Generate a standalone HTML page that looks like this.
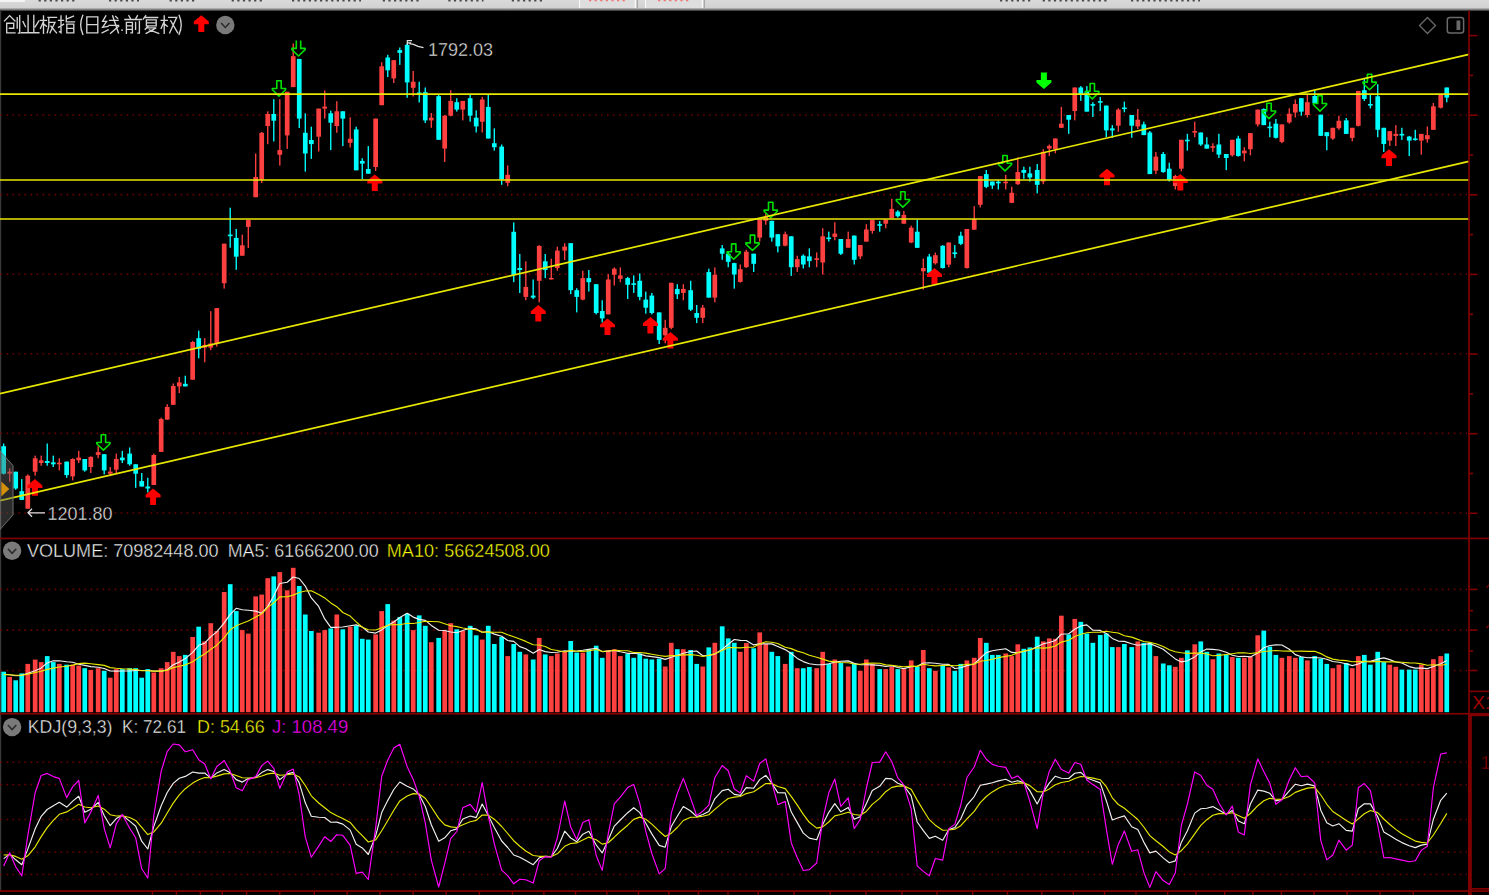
<!DOCTYPE html>
<html><head><meta charset="utf-8"><style>html,body{margin:0;padding:0;background:#000;overflow:hidden;width:1489px;height:895px}</style></head>
<body><svg width="1489" height="895" viewBox="0 0 1489 895" style="display:block">
<rect x="0" y="0" width="1489" height="895" fill="#000"/>
<defs><linearGradient id="tg" x1="0" y1="0" x2="0" y2="1"><stop offset="0" stop-color="#dadada"/><stop offset="0.66" stop-color="#d2d2d2"/><stop offset="0.83" stop-color="#808080"/><stop offset="1" stop-color="#060606"/></linearGradient></defs>
<rect x="0" y="0" width="1489" height="11.5" fill="url(#tg)"/>
<rect x="0" y="0" width="25" height="2" fill="#f4f4f4"/>
<rect x="579" y="0" width="57" height="8" fill="#dedede"/><rect x="645" y="0" width="58" height="8" fill="#dedede"/>
<rect x="579" y="0" width="1" height="8" fill="#fafafa"/>
<rect x="645" y="0" width="1" height="8" fill="#fafafa"/>
<rect x="634.7" y="0" width="1.2" height="8" fill="#fafafa"/><rect x="636.8" y="0" width="1.2" height="8" fill="#a8a8a8"/>
<rect x="701.7" y="0" width="1.2" height="8" fill="#fafafa"/><rect x="703.8" y="0" width="1.2" height="8" fill="#a8a8a8"/>
<line x1="38.6" y1="0.6" x2="75.6" y2="0.6" stroke="#303030" stroke-width="1.6" stroke-dasharray="2.2 3.4" opacity="0.85"/>
<line x1="109" y1="0.6" x2="139" y2="0.6" stroke="#303030" stroke-width="1.6" stroke-dasharray="2.2 3.4" opacity="0.85"/>
<line x1="169.6" y1="0.6" x2="196.4" y2="0.6" stroke="#303030" stroke-width="1.6" stroke-dasharray="2.2 3.4" opacity="0.85"/>
<line x1="231.7" y1="0.6" x2="265.3" y2="0.6" stroke="#303030" stroke-width="1.6" stroke-dasharray="2.2 3.4" opacity="0.85"/>
<line x1="292" y1="0.6" x2="361" y2="0.6" stroke="#303030" stroke-width="1.6" stroke-dasharray="2.2 3.4" opacity="0.85"/>
<line x1="382.8" y1="0.6" x2="419.8" y2="0.6" stroke="#303030" stroke-width="1.6" stroke-dasharray="2.2 3.4" opacity="0.85"/>
<line x1="448.3" y1="0.6" x2="483.5" y2="0.6" stroke="#303030" stroke-width="1.6" stroke-dasharray="2.2 3.4" opacity="0.85"/>
<line x1="511.8" y1="0.6" x2="543.7" y2="0.6" stroke="#303030" stroke-width="1.6" stroke-dasharray="2.2 3.4" opacity="0.85"/>
<line x1="1000" y1="0.6" x2="1033" y2="0.6" stroke="#303030" stroke-width="1.6" stroke-dasharray="2.2 3.4" opacity="0.85"/>
<line x1="1042.7" y1="0.6" x2="1108" y2="0.6" stroke="#303030" stroke-width="1.6" stroke-dasharray="2.2 3.4" opacity="0.85"/>
<line x1="1131" y1="0.6" x2="1200" y2="0.6" stroke="#303030" stroke-width="1.6" stroke-dasharray="2.2 3.4" opacity="0.85"/>
<line x1="589" y1="0.6" x2="626" y2="0.6" stroke="#ff3030" stroke-width="1.4" stroke-dasharray="2.2 3.4" opacity="0.6"/>
<line x1="658" y1="0.6" x2="691" y2="0.6" stroke="#ff3030" stroke-width="1.4" stroke-dasharray="2.2 3.4" opacity="0.6"/>
<rect x="0" y="10" width="1.2" height="881" fill="#3a3a3a"/>
<line x1="0.5" y1="115.0" x2="1467" y2="115.0" stroke="#6e0000" stroke-width="1.6" stroke-dasharray="1.6 4.4054"/>
<line x1="0.5" y1="194.6" x2="1467" y2="194.6" stroke="#6e0000" stroke-width="1.6" stroke-dasharray="1.6 4.4054"/>
<line x1="0.5" y1="274.2" x2="1467" y2="274.2" stroke="#6e0000" stroke-width="1.6" stroke-dasharray="1.6 4.4054"/>
<line x1="0.5" y1="353.79999999999995" x2="1467" y2="353.79999999999995" stroke="#6e0000" stroke-width="1.6" stroke-dasharray="1.6 4.4054"/>
<line x1="0.5" y1="433.4" x2="1467" y2="433.4" stroke="#6e0000" stroke-width="1.6" stroke-dasharray="1.6 4.4054"/>
<line x1="0.5" y1="513.0" x2="1467" y2="513.0" stroke="#6e0000" stroke-width="1.6" stroke-dasharray="1.6 4.4054"/>
<rect x="2.98" y="443.5" width="1.35" height="30.9" fill="#00ffff"/>
<rect x="1.30" y="446.2" width="4.7" height="27.5" fill="#00ffff"/>
<rect x="9.01" y="468.4" width="1.35" height="13.4" fill="#ff4040"/>
<rect x="7.34" y="471.7" width="4.7" height="2.0" fill="#ff4040"/>
<rect x="15.04" y="471.7" width="1.35" height="18.1" fill="#00ffff"/>
<rect x="13.37" y="471.7" width="4.7" height="16.8" fill="#00ffff"/>
<rect x="21.08" y="479.1" width="1.35" height="20.8" fill="#00ffff"/>
<rect x="19.40" y="491.2" width="4.7" height="8.7" fill="#00ffff"/>
<rect x="27.11" y="474.4" width="1.35" height="34.3" fill="#ff4040"/>
<rect x="25.44" y="475.7" width="4.7" height="33.0" fill="#ff4040"/>
<rect x="34.48" y="455.6" width="1.35" height="20.1" fill="#ff4040"/>
<rect x="32.81" y="458.3" width="4.7" height="13.4" fill="#ff4040"/>
<rect x="40.51" y="455.6" width="1.35" height="10.1" fill="#ff4040"/>
<rect x="38.84" y="460.3" width="4.7" height="2.7" fill="#ff4040"/>
<rect x="46.55" y="443.5" width="1.35" height="22.2" fill="#00ffff"/>
<rect x="44.87" y="461.0" width="4.7" height="2.0" fill="#00ffff"/>
<rect x="52.58" y="455.6" width="1.35" height="11.4" fill="#00ffff"/>
<rect x="50.91" y="462.3" width="4.7" height="2.0" fill="#00ffff"/>
<rect x="58.61" y="458.3" width="1.35" height="12.1" fill="#ff4040"/>
<rect x="56.94" y="462.7" width="4.7" height="1.6" fill="#ff4040"/>
<rect x="65.98" y="461.6" width="1.35" height="16.2" fill="#00ffff"/>
<rect x="64.31" y="461.6" width="4.7" height="13.5" fill="#00ffff"/>
<rect x="72.02" y="458.3" width="1.35" height="22.1" fill="#ff4040"/>
<rect x="70.34" y="459.0" width="4.7" height="17.4" fill="#ff4040"/>
<rect x="78.05" y="450.9" width="1.35" height="12.1" fill="#ff4040"/>
<rect x="76.38" y="457.6" width="4.7" height="2.7" fill="#ff4040"/>
<rect x="84.08" y="459.0" width="1.35" height="12.7" fill="#00ffff"/>
<rect x="82.41" y="459.0" width="4.7" height="11.4" fill="#00ffff"/>
<rect x="90.12" y="456.3" width="1.35" height="16.7" fill="#ff4040"/>
<rect x="88.44" y="456.9" width="4.7" height="10.1" fill="#ff4040"/>
<rect x="97.49" y="446.2" width="1.35" height="12.1" fill="#ff4040"/>
<rect x="95.81" y="452.2" width="4.7" height="2.7" fill="#ff4040"/>
<rect x="103.52" y="454.2" width="1.35" height="20.2" fill="#00ffff"/>
<rect x="101.85" y="454.2" width="4.7" height="16.2" fill="#00ffff"/>
<rect x="109.55" y="467.0" width="1.35" height="8.1" fill="#ff4040"/>
<rect x="107.88" y="471.7" width="4.7" height="2.0" fill="#ff4040"/>
<rect x="115.59" y="453.6" width="1.35" height="19.4" fill="#ff4040"/>
<rect x="113.91" y="459.0" width="4.7" height="10.7" fill="#ff4040"/>
<rect x="121.62" y="450.9" width="1.35" height="12.1" fill="#00ffff"/>
<rect x="119.95" y="457.6" width="4.7" height="2.7" fill="#00ffff"/>
<rect x="128.99" y="447.5" width="1.35" height="18.2" fill="#00ffff"/>
<rect x="127.32" y="453.6" width="4.7" height="10.7" fill="#00ffff"/>
<rect x="135.02" y="464.3" width="1.35" height="23.5" fill="#00ffff"/>
<rect x="133.35" y="464.3" width="4.7" height="9.4" fill="#00ffff"/>
<rect x="141.06" y="473.0" width="1.35" height="13.5" fill="#00ffff"/>
<rect x="139.38" y="481.1" width="4.7" height="5.4" fill="#00ffff"/>
<rect x="147.09" y="477.8" width="1.35" height="14.7" fill="#00ffff"/>
<rect x="145.42" y="486.5" width="4.7" height="2.0" fill="#00ffff"/>
<rect x="153.12" y="453.6" width="1.35" height="31.4" fill="#ff4040"/>
<rect x="151.45" y="455.0" width="4.7" height="30.0" fill="#ff4040"/>
<rect x="160.49" y="417.6" width="1.35" height="34.3" fill="#ff4040"/>
<rect x="158.82" y="419.0" width="4.7" height="32.9" fill="#ff4040"/>
<rect x="166.53" y="404.2" width="1.35" height="15.4" fill="#ff4040"/>
<rect x="164.85" y="406.9" width="4.7" height="12.7" fill="#ff4040"/>
<rect x="172.56" y="383.4" width="1.35" height="21.4" fill="#ff4040"/>
<rect x="170.89" y="386.0" width="4.7" height="18.8" fill="#ff4040"/>
<rect x="178.59" y="377.0" width="1.35" height="16.1" fill="#ff4040"/>
<rect x="176.92" y="382.4" width="4.7" height="4.0" fill="#ff4040"/>
<rect x="184.63" y="375.7" width="1.35" height="10.7" fill="#00ffff"/>
<rect x="182.95" y="383.8" width="4.7" height="2.6" fill="#00ffff"/>
<rect x="192.00" y="340.9" width="1.35" height="38.8" fill="#ff4040"/>
<rect x="190.32" y="342.0" width="4.7" height="37.7" fill="#ff4040"/>
<rect x="198.03" y="330.6" width="1.35" height="27.7" fill="#00ffff"/>
<rect x="196.36" y="338.2" width="4.7" height="10.7" fill="#00ffff"/>
<rect x="204.06" y="338.2" width="1.35" height="24.1" fill="#ff4040"/>
<rect x="202.39" y="344.9" width="4.7" height="2.7" fill="#ff4040"/>
<rect x="210.10" y="311.2" width="1.35" height="39.0" fill="#ff4040"/>
<rect x="208.42" y="343.5" width="4.7" height="4.1" fill="#ff4040"/>
<rect x="216.13" y="308.1" width="1.35" height="38.6" fill="#ff4040"/>
<rect x="214.46" y="308.1" width="4.7" height="35.6" fill="#ff4040"/>
<rect x="223.50" y="243.7" width="1.35" height="44.9" fill="#ff4040"/>
<rect x="221.83" y="243.7" width="4.7" height="39.5" fill="#ff4040"/>
<rect x="229.53" y="207.7" width="1.35" height="40.0" fill="#00ffff"/>
<rect x="227.86" y="234.6" width="4.7" height="1.6" fill="#00ffff"/>
<rect x="235.57" y="228.9" width="1.35" height="40.9" fill="#00ffff"/>
<rect x="233.89" y="237.9" width="4.7" height="18.8" fill="#00ffff"/>
<rect x="241.60" y="234.6" width="1.35" height="21.1" fill="#ff4040"/>
<rect x="239.93" y="245.3" width="4.7" height="10.4" fill="#ff4040"/>
<rect x="247.63" y="219.7" width="1.35" height="28.3" fill="#ff4040"/>
<rect x="245.96" y="220.1" width="4.7" height="6.8" fill="#ff4040"/>
<rect x="255.00" y="153.5" width="1.35" height="43.7" fill="#ff4040"/>
<rect x="253.33" y="177.0" width="4.7" height="20.2" fill="#ff4040"/>
<rect x="261.04" y="132.0" width="1.35" height="51.0" fill="#ff4040"/>
<rect x="259.36" y="132.8" width="4.7" height="46.9" fill="#ff4040"/>
<rect x="267.07" y="111.3" width="1.35" height="32.9" fill="#ff4040"/>
<rect x="265.40" y="114.0" width="4.7" height="12.0" fill="#ff4040"/>
<rect x="273.10" y="99.2" width="1.35" height="42.3" fill="#00ffff"/>
<rect x="271.43" y="114.0" width="4.7" height="6.7" fill="#00ffff"/>
<rect x="279.14" y="99.2" width="1.35" height="66.4" fill="#ff4040"/>
<rect x="277.46" y="150.1" width="4.7" height="4.7" fill="#ff4040"/>
<rect x="286.51" y="91.8" width="1.35" height="57.1" fill="#ff4040"/>
<rect x="284.83" y="91.8" width="4.7" height="43.6" fill="#ff4040"/>
<rect x="292.54" y="43.4" width="1.35" height="43.7" fill="#ff4040"/>
<rect x="290.87" y="56.2" width="4.7" height="30.9" fill="#ff4040"/>
<rect x="298.57" y="58.9" width="1.35" height="69.1" fill="#00ffff"/>
<rect x="296.90" y="58.9" width="4.7" height="59.7" fill="#00ffff"/>
<rect x="304.61" y="113.3" width="1.35" height="58.3" fill="#00ffff"/>
<rect x="302.93" y="132.8" width="4.7" height="20.7" fill="#00ffff"/>
<rect x="310.64" y="126.7" width="1.35" height="32.2" fill="#00ffff"/>
<rect x="308.97" y="140.0" width="4.7" height="4.1" fill="#00ffff"/>
<rect x="318.01" y="108.6" width="1.35" height="42.9" fill="#ff4040"/>
<rect x="316.34" y="108.6" width="4.7" height="28.1" fill="#ff4040"/>
<rect x="324.04" y="90.4" width="1.35" height="28.2" fill="#ff4040"/>
<rect x="322.37" y="106.6" width="4.7" height="2.0" fill="#ff4040"/>
<rect x="330.08" y="110.6" width="1.35" height="39.5" fill="#00ffff"/>
<rect x="328.40" y="113.3" width="4.7" height="9.4" fill="#00ffff"/>
<rect x="336.11" y="101.2" width="1.35" height="31.6" fill="#ff4040"/>
<rect x="334.44" y="111.3" width="4.7" height="14.7" fill="#ff4040"/>
<rect x="342.14" y="111.3" width="1.35" height="34.8" fill="#00ffff"/>
<rect x="340.47" y="111.3" width="4.7" height="7.3" fill="#00ffff"/>
<rect x="349.51" y="117.3" width="1.35" height="30.2" fill="#ff4040"/>
<rect x="347.84" y="138.8" width="4.7" height="4.0" fill="#ff4040"/>
<rect x="355.55" y="126.7" width="1.35" height="43.6" fill="#00ffff"/>
<rect x="353.87" y="129.4" width="4.7" height="40.9" fill="#00ffff"/>
<rect x="361.58" y="158.2" width="1.35" height="20.8" fill="#00ffff"/>
<rect x="359.91" y="160.9" width="4.7" height="2.7" fill="#00ffff"/>
<rect x="367.61" y="146.1" width="1.35" height="27.6" fill="#00ffff"/>
<rect x="365.94" y="169.0" width="4.7" height="4.7" fill="#00ffff"/>
<rect x="374.98" y="118.6" width="1.35" height="52.4" fill="#ff4040"/>
<rect x="373.31" y="118.6" width="4.7" height="48.4" fill="#ff4040"/>
<rect x="381.02" y="62.2" width="1.35" height="43.0" fill="#ff4040"/>
<rect x="379.34" y="66.3" width="4.7" height="38.9" fill="#ff4040"/>
<rect x="387.05" y="54.8" width="1.35" height="22.2" fill="#00ffff"/>
<rect x="385.38" y="57.5" width="4.7" height="12.8" fill="#00ffff"/>
<rect x="393.08" y="60.2" width="1.35" height="22.8" fill="#ff4040"/>
<rect x="391.41" y="60.2" width="4.7" height="18.2" fill="#ff4040"/>
<rect x="399.12" y="47.5" width="1.35" height="17.4" fill="#00ffff"/>
<rect x="397.44" y="50.1" width="4.7" height="2.7" fill="#00ffff"/>
<rect x="406.49" y="43.4" width="1.35" height="54.4" fill="#00ffff"/>
<rect x="404.81" y="44.8" width="4.7" height="37.6" fill="#00ffff"/>
<rect x="412.52" y="71.0" width="1.35" height="25.5" fill="#ff4040"/>
<rect x="410.85" y="81.7" width="4.7" height="6.1" fill="#ff4040"/>
<rect x="418.55" y="81.7" width="1.35" height="20.8" fill="#00ffff"/>
<rect x="416.88" y="92.5" width="4.7" height="2.0" fill="#00ffff"/>
<rect x="424.59" y="87.5" width="1.35" height="35.5" fill="#00ffff"/>
<rect x="422.91" y="92.2" width="4.7" height="28.2" fill="#00ffff"/>
<rect x="430.62" y="113.0" width="1.35" height="14.8" fill="#ff4040"/>
<rect x="428.95" y="117.7" width="4.7" height="2.7" fill="#ff4040"/>
<rect x="437.99" y="94.8" width="1.35" height="45.0" fill="#00ffff"/>
<rect x="436.32" y="96.2" width="4.7" height="43.6" fill="#00ffff"/>
<rect x="444.02" y="115.0" width="1.35" height="47.0" fill="#ff4040"/>
<rect x="442.35" y="115.7" width="4.7" height="32.9" fill="#ff4040"/>
<rect x="450.06" y="90.1" width="1.35" height="26.2" fill="#ff4040"/>
<rect x="448.38" y="100.9" width="4.7" height="14.8" fill="#ff4040"/>
<rect x="456.09" y="98.2" width="1.35" height="13.4" fill="#00ffff"/>
<rect x="454.42" y="102.2" width="4.7" height="7.4" fill="#00ffff"/>
<rect x="462.12" y="100.9" width="1.35" height="19.5" fill="#ff4040"/>
<rect x="460.45" y="100.9" width="4.7" height="8.7" fill="#ff4040"/>
<rect x="469.49" y="94.8" width="1.35" height="26.9" fill="#00ffff"/>
<rect x="467.82" y="98.2" width="4.7" height="17.5" fill="#00ffff"/>
<rect x="475.53" y="110.3" width="1.35" height="22.2" fill="#00ffff"/>
<rect x="473.85" y="117.7" width="4.7" height="8.7" fill="#00ffff"/>
<rect x="481.56" y="96.9" width="1.35" height="35.6" fill="#ff4040"/>
<rect x="479.89" y="99.5" width="4.7" height="22.2" fill="#ff4040"/>
<rect x="487.59" y="94.8" width="1.35" height="43.7" fill="#00ffff"/>
<rect x="485.92" y="106.9" width="4.7" height="31.6" fill="#00ffff"/>
<rect x="493.63" y="128.4" width="1.35" height="22.2" fill="#00ffff"/>
<rect x="491.95" y="143.2" width="4.7" height="4.0" fill="#00ffff"/>
<rect x="501.00" y="144.5" width="1.35" height="40.3" fill="#00ffff"/>
<rect x="499.32" y="146.6" width="4.7" height="32.9" fill="#00ffff"/>
<rect x="507.03" y="165.4" width="1.35" height="20.8" fill="#ff4040"/>
<rect x="505.36" y="174.8" width="4.7" height="8.0" fill="#ff4040"/>
<rect x="513.06" y="222.4" width="1.35" height="59.8" fill="#00ffff"/>
<rect x="511.39" y="231.8" width="4.7" height="43.0" fill="#00ffff"/>
<rect x="519.10" y="254.0" width="1.35" height="39.0" fill="#00ffff"/>
<rect x="517.42" y="268.0" width="4.7" height="2.0" fill="#00ffff"/>
<rect x="525.13" y="261.3" width="1.35" height="39.0" fill="#ff4040"/>
<rect x="523.46" y="286.9" width="4.7" height="10.0" fill="#ff4040"/>
<rect x="532.50" y="279.5" width="1.35" height="19.5" fill="#00ffff"/>
<rect x="530.83" y="295.6" width="4.7" height="2.0" fill="#00ffff"/>
<rect x="538.53" y="245.2" width="1.35" height="57.1" fill="#ff4040"/>
<rect x="536.86" y="245.9" width="4.7" height="34.9" fill="#ff4040"/>
<rect x="544.57" y="254.0" width="1.35" height="24.1" fill="#00ffff"/>
<rect x="542.89" y="261.3" width="4.7" height="8.7" fill="#00ffff"/>
<rect x="550.60" y="258.7" width="1.35" height="20.8" fill="#ff4040"/>
<rect x="548.93" y="277.9" width="4.7" height="1.6" fill="#ff4040"/>
<rect x="556.63" y="246.6" width="1.35" height="24.1" fill="#ff4040"/>
<rect x="554.96" y="250.6" width="4.7" height="17.4" fill="#ff4040"/>
<rect x="564.00" y="243.2" width="1.35" height="16.8" fill="#ff4040"/>
<rect x="562.33" y="246.6" width="4.7" height="4.0" fill="#ff4040"/>
<rect x="570.04" y="243.2" width="1.35" height="51.0" fill="#00ffff"/>
<rect x="568.36" y="243.2" width="4.7" height="47.0" fill="#00ffff"/>
<rect x="576.07" y="288.2" width="1.35" height="24.2" fill="#00ffff"/>
<rect x="574.40" y="290.2" width="4.7" height="6.7" fill="#00ffff"/>
<rect x="582.10" y="270.7" width="1.35" height="29.6" fill="#ff4040"/>
<rect x="580.43" y="278.1" width="4.7" height="21.5" fill="#ff4040"/>
<rect x="588.14" y="270.0" width="1.35" height="21.6" fill="#00ffff"/>
<rect x="586.46" y="278.1" width="4.7" height="4.1" fill="#00ffff"/>
<rect x="595.51" y="284.2" width="1.35" height="30.2" fill="#00ffff"/>
<rect x="593.83" y="284.2" width="4.7" height="28.8" fill="#00ffff"/>
<rect x="601.54" y="300.3" width="1.35" height="22.2" fill="#00ffff"/>
<rect x="599.87" y="311.0" width="4.7" height="7.4" fill="#00ffff"/>
<rect x="607.57" y="274.1" width="1.35" height="40.3" fill="#ff4040"/>
<rect x="605.90" y="279.5" width="4.7" height="34.9" fill="#ff4040"/>
<rect x="613.61" y="267.4" width="1.35" height="18.1" fill="#ff4040"/>
<rect x="611.93" y="268.7" width="4.7" height="6.1" fill="#ff4040"/>
<rect x="619.64" y="267.4" width="1.35" height="14.8" fill="#ff4040"/>
<rect x="617.97" y="275.4" width="4.7" height="3.4" fill="#ff4040"/>
<rect x="627.01" y="276.8" width="1.35" height="22.2" fill="#00ffff"/>
<rect x="625.34" y="278.1" width="4.7" height="6.7" fill="#00ffff"/>
<rect x="633.04" y="275.4" width="1.35" height="17.5" fill="#00ffff"/>
<rect x="631.37" y="283.3" width="4.7" height="1.6" fill="#00ffff"/>
<rect x="639.08" y="273.4" width="1.35" height="26.9" fill="#00ffff"/>
<rect x="637.40" y="280.8" width="4.7" height="16.1" fill="#00ffff"/>
<rect x="645.11" y="291.6" width="1.35" height="22.1" fill="#00ffff"/>
<rect x="643.44" y="299.6" width="4.7" height="8.1" fill="#00ffff"/>
<rect x="651.14" y="292.9" width="1.35" height="21.5" fill="#00ffff"/>
<rect x="649.47" y="295.6" width="4.7" height="17.4" fill="#00ffff"/>
<rect x="658.51" y="312.4" width="1.35" height="31.6" fill="#00ffff"/>
<rect x="656.84" y="312.4" width="4.7" height="27.5" fill="#00ffff"/>
<rect x="664.55" y="319.8" width="1.35" height="23.5" fill="#ff4040"/>
<rect x="662.87" y="327.8" width="4.7" height="7.4" fill="#ff4040"/>
<rect x="670.58" y="282.8" width="1.35" height="46.4" fill="#ff4040"/>
<rect x="668.91" y="282.8" width="4.7" height="45.0" fill="#ff4040"/>
<rect x="676.61" y="284.2" width="1.35" height="14.8" fill="#00ffff"/>
<rect x="674.94" y="288.9" width="4.7" height="5.3" fill="#00ffff"/>
<rect x="682.65" y="284.2" width="1.35" height="16.1" fill="#ff4040"/>
<rect x="680.97" y="288.9" width="4.7" height="4.0" fill="#ff4040"/>
<rect x="690.02" y="280.8" width="1.35" height="30.2" fill="#00ffff"/>
<rect x="688.34" y="290.2" width="4.7" height="19.5" fill="#00ffff"/>
<rect x="696.05" y="305.0" width="1.35" height="18.1" fill="#00ffff"/>
<rect x="694.38" y="313.0" width="4.7" height="4.8" fill="#00ffff"/>
<rect x="702.08" y="305.0" width="1.35" height="18.1" fill="#ff4040"/>
<rect x="700.41" y="307.7" width="4.7" height="10.1" fill="#ff4040"/>
<rect x="708.12" y="268.7" width="1.35" height="28.9" fill="#00ffff"/>
<rect x="706.44" y="272.1" width="4.7" height="25.5" fill="#00ffff"/>
<rect x="714.15" y="267.4" width="1.35" height="34.9" fill="#ff4040"/>
<rect x="712.48" y="274.8" width="4.7" height="22.8" fill="#ff4040"/>
<rect x="721.52" y="245.0" width="1.35" height="14.8" fill="#00ffff"/>
<rect x="719.85" y="248.4" width="4.7" height="5.3" fill="#00ffff"/>
<rect x="727.55" y="251.7" width="1.35" height="15.5" fill="#00ffff"/>
<rect x="725.88" y="253.7" width="4.7" height="8.1" fill="#00ffff"/>
<rect x="733.59" y="262.7" width="1.35" height="25.9" fill="#00ffff"/>
<rect x="731.91" y="263.1" width="4.7" height="11.4" fill="#00ffff"/>
<rect x="739.62" y="264.5" width="1.35" height="18.1" fill="#ff4040"/>
<rect x="737.95" y="269.2" width="4.7" height="12.7" fill="#ff4040"/>
<rect x="745.65" y="249.7" width="1.35" height="18.1" fill="#ff4040"/>
<rect x="743.98" y="251.7" width="4.7" height="15.5" fill="#ff4040"/>
<rect x="753.02" y="253.7" width="1.35" height="18.2" fill="#00ffff"/>
<rect x="751.35" y="253.7" width="4.7" height="10.1" fill="#00ffff"/>
<rect x="759.06" y="219.5" width="1.35" height="22.1" fill="#ff4040"/>
<rect x="757.38" y="219.5" width="4.7" height="18.1" fill="#ff4040"/>
<rect x="765.09" y="213.4" width="1.35" height="11.4" fill="#ff4040"/>
<rect x="763.42" y="216.8" width="4.7" height="4.0" fill="#ff4040"/>
<rect x="771.12" y="220.8" width="1.35" height="20.8" fill="#00ffff"/>
<rect x="769.45" y="220.8" width="4.7" height="16.8" fill="#00ffff"/>
<rect x="777.16" y="234.2" width="1.35" height="18.2" fill="#00ffff"/>
<rect x="775.48" y="234.2" width="4.7" height="12.1" fill="#00ffff"/>
<rect x="784.53" y="231.6" width="1.35" height="14.7" fill="#ff4040"/>
<rect x="782.85" y="234.2" width="4.7" height="11.5" fill="#ff4040"/>
<rect x="790.56" y="236.3" width="1.35" height="39.6" fill="#00ffff"/>
<rect x="788.89" y="236.3" width="4.7" height="30.9" fill="#00ffff"/>
<rect x="796.59" y="255.7" width="1.35" height="16.2" fill="#ff4040"/>
<rect x="794.92" y="259.1" width="4.7" height="8.1" fill="#ff4040"/>
<rect x="802.63" y="254.4" width="1.35" height="14.1" fill="#00ffff"/>
<rect x="800.95" y="255.7" width="4.7" height="8.8" fill="#00ffff"/>
<rect x="808.66" y="248.4" width="1.35" height="18.8" fill="#00ffff"/>
<rect x="806.99" y="256.4" width="4.7" height="4.7" fill="#00ffff"/>
<rect x="816.03" y="252.4" width="1.35" height="14.8" fill="#ff4040"/>
<rect x="814.36" y="258.3" width="4.7" height="1.6" fill="#ff4040"/>
<rect x="822.06" y="228.2" width="1.35" height="46.3" fill="#ff4040"/>
<rect x="820.39" y="236.3" width="4.7" height="26.2" fill="#ff4040"/>
<rect x="828.10" y="231.6" width="1.35" height="10.0" fill="#00ffff"/>
<rect x="826.42" y="237.5" width="4.7" height="1.6" fill="#00ffff"/>
<rect x="834.13" y="222.2" width="1.35" height="18.1" fill="#ff4040"/>
<rect x="832.46" y="233.6" width="4.7" height="3.3" fill="#ff4040"/>
<rect x="840.16" y="239.0" width="1.35" height="16.0" fill="#00ffff"/>
<rect x="838.49" y="239.0" width="4.7" height="14.7" fill="#00ffff"/>
<rect x="847.53" y="231.6" width="1.35" height="16.1" fill="#ff4040"/>
<rect x="845.86" y="239.0" width="4.7" height="8.7" fill="#ff4040"/>
<rect x="853.57" y="235.6" width="1.35" height="28.9" fill="#00ffff"/>
<rect x="851.89" y="235.6" width="4.7" height="24.2" fill="#00ffff"/>
<rect x="859.60" y="245.0" width="1.35" height="14.1" fill="#ff4040"/>
<rect x="857.93" y="245.0" width="4.7" height="11.4" fill="#ff4040"/>
<rect x="865.63" y="224.2" width="1.35" height="17.4" fill="#ff4040"/>
<rect x="863.96" y="229.5" width="4.7" height="12.1" fill="#ff4040"/>
<rect x="871.67" y="219.5" width="1.35" height="14.2" fill="#ff4040"/>
<rect x="869.99" y="220.1" width="4.7" height="10.8" fill="#ff4040"/>
<rect x="879.04" y="221.0" width="1.35" height="10.7" fill="#00ffff"/>
<rect x="877.36" y="224.2" width="4.7" height="1.6" fill="#00ffff"/>
<rect x="885.07" y="219.6" width="1.35" height="8.8" fill="#ff4040"/>
<rect x="883.40" y="219.6" width="4.7" height="4.1" fill="#ff4040"/>
<rect x="891.10" y="198.8" width="1.35" height="19.5" fill="#ff4040"/>
<rect x="889.43" y="208.9" width="4.7" height="9.4" fill="#ff4040"/>
<rect x="897.14" y="210.2" width="1.35" height="7.4" fill="#00ffff"/>
<rect x="895.46" y="211.6" width="4.7" height="4.7" fill="#00ffff"/>
<rect x="903.17" y="210.9" width="1.35" height="12.8" fill="#ff4040"/>
<rect x="901.50" y="214.9" width="4.7" height="8.8" fill="#ff4040"/>
<rect x="910.54" y="225.7" width="1.35" height="17.4" fill="#ff4040"/>
<rect x="908.87" y="227.7" width="4.7" height="14.8" fill="#ff4040"/>
<rect x="916.57" y="219.6" width="1.35" height="28.2" fill="#00ffff"/>
<rect x="914.90" y="231.7" width="4.7" height="16.1" fill="#00ffff"/>
<rect x="922.61" y="258.6" width="1.35" height="30.9" fill="#ff4040"/>
<rect x="920.93" y="268.0" width="4.7" height="3.3" fill="#ff4040"/>
<rect x="928.64" y="253.9" width="1.35" height="18.8" fill="#00ffff"/>
<rect x="926.97" y="256.6" width="4.7" height="16.1" fill="#00ffff"/>
<rect x="934.67" y="252.5" width="1.35" height="12.1" fill="#ff4040"/>
<rect x="933.00" y="255.2" width="4.7" height="8.1" fill="#ff4040"/>
<rect x="942.04" y="245.1" width="1.35" height="23.5" fill="#00ffff"/>
<rect x="940.37" y="245.8" width="4.7" height="22.2" fill="#00ffff"/>
<rect x="948.08" y="242.5" width="1.35" height="24.8" fill="#ff4040"/>
<rect x="946.40" y="242.5" width="4.7" height="22.1" fill="#ff4040"/>
<rect x="954.11" y="245.1" width="1.35" height="12.8" fill="#00ffff"/>
<rect x="952.44" y="252.4" width="4.7" height="1.6" fill="#00ffff"/>
<rect x="960.14" y="231.7" width="1.35" height="13.4" fill="#00ffff"/>
<rect x="958.47" y="235.7" width="4.7" height="8.1" fill="#00ffff"/>
<rect x="966.18" y="229.0" width="1.35" height="39.6" fill="#ff4040"/>
<rect x="964.50" y="229.0" width="4.7" height="39.0" fill="#ff4040"/>
<rect x="973.55" y="206.2" width="1.35" height="23.5" fill="#ff4040"/>
<rect x="971.87" y="219.0" width="4.7" height="10.7" fill="#ff4040"/>
<rect x="979.58" y="176.1" width="1.35" height="31.4" fill="#ff4040"/>
<rect x="977.91" y="176.1" width="4.7" height="28.7" fill="#ff4040"/>
<rect x="985.61" y="170.0" width="1.35" height="18.2" fill="#00ffff"/>
<rect x="983.94" y="174.1" width="4.7" height="12.8" fill="#00ffff"/>
<rect x="991.65" y="181.5" width="1.35" height="7.4" fill="#00ffff"/>
<rect x="989.97" y="181.5" width="4.7" height="4.0" fill="#00ffff"/>
<rect x="997.68" y="180.1" width="1.35" height="9.4" fill="#00ffff"/>
<rect x="996.00" y="181.7" width="4.7" height="1.6" fill="#00ffff"/>
<rect x="1005.05" y="174.8" width="1.35" height="14.7" fill="#ff4040"/>
<rect x="1003.38" y="181.7" width="4.7" height="1.6" fill="#ff4040"/>
<rect x="1011.08" y="186.7" width="1.35" height="16.1" fill="#ff4040"/>
<rect x="1009.41" y="192.8" width="4.7" height="10.0" fill="#ff4040"/>
<rect x="1017.12" y="157.3" width="1.35" height="27.6" fill="#ff4040"/>
<rect x="1015.44" y="172.1" width="4.7" height="12.1" fill="#ff4040"/>
<rect x="1023.15" y="166.7" width="1.35" height="12.1" fill="#00ffff"/>
<rect x="1021.47" y="170.0" width="4.7" height="2.8" fill="#00ffff"/>
<rect x="1029.18" y="166.7" width="1.35" height="14.8" fill="#00ffff"/>
<rect x="1027.51" y="173.4" width="4.7" height="4.1" fill="#00ffff"/>
<rect x="1036.55" y="164.0" width="1.35" height="29.4" fill="#00ffff"/>
<rect x="1034.88" y="170.0" width="4.7" height="14.8" fill="#00ffff"/>
<rect x="1042.59" y="149.2" width="1.35" height="35.0" fill="#ff4040"/>
<rect x="1040.91" y="151.9" width="4.7" height="29.6" fill="#ff4040"/>
<rect x="1048.62" y="144.5" width="1.35" height="11.5" fill="#ff4040"/>
<rect x="1046.95" y="145.9" width="4.7" height="2.7" fill="#ff4040"/>
<rect x="1054.65" y="138.5" width="1.35" height="14.8" fill="#ff4040"/>
<rect x="1052.98" y="138.5" width="4.7" height="10.7" fill="#ff4040"/>
<rect x="1060.69" y="106.9" width="1.35" height="20.9" fill="#ff4040"/>
<rect x="1059.01" y="123.7" width="4.7" height="4.1" fill="#ff4040"/>
<rect x="1068.06" y="115.0" width="1.35" height="18.8" fill="#00ffff"/>
<rect x="1066.38" y="115.0" width="4.7" height="4.7" fill="#00ffff"/>
<rect x="1074.09" y="87.5" width="1.35" height="32.9" fill="#ff4040"/>
<rect x="1072.42" y="87.5" width="4.7" height="23.5" fill="#ff4040"/>
<rect x="1080.12" y="86.1" width="1.35" height="14.8" fill="#00ffff"/>
<rect x="1078.45" y="87.5" width="4.7" height="6.7" fill="#00ffff"/>
<rect x="1086.16" y="86.1" width="1.35" height="25.5" fill="#00ffff"/>
<rect x="1084.48" y="91.5" width="4.7" height="20.1" fill="#00ffff"/>
<rect x="1092.19" y="102.2" width="1.35" height="14.8" fill="#00ffff"/>
<rect x="1090.51" y="104.1" width="4.7" height="1.6" fill="#00ffff"/>
<rect x="1099.56" y="96.9" width="1.35" height="14.1" fill="#00ffff"/>
<rect x="1097.89" y="101.1" width="4.7" height="1.6" fill="#00ffff"/>
<rect x="1105.59" y="105.6" width="1.35" height="31.6" fill="#00ffff"/>
<rect x="1103.92" y="105.6" width="4.7" height="24.8" fill="#00ffff"/>
<rect x="1111.63" y="125.1" width="1.35" height="12.7" fill="#00ffff"/>
<rect x="1109.95" y="128.4" width="4.7" height="2.0" fill="#00ffff"/>
<rect x="1117.66" y="108.3" width="1.35" height="23.5" fill="#ff4040"/>
<rect x="1115.98" y="109.6" width="4.7" height="16.1" fill="#ff4040"/>
<rect x="1123.69" y="101.6" width="1.35" height="10.7" fill="#00ffff"/>
<rect x="1122.02" y="107.5" width="4.7" height="1.6" fill="#00ffff"/>
<rect x="1131.06" y="115.0" width="1.35" height="22.8" fill="#00ffff"/>
<rect x="1129.39" y="115.0" width="4.7" height="10.7" fill="#00ffff"/>
<rect x="1137.10" y="109.0" width="1.35" height="20.0" fill="#ff4040"/>
<rect x="1135.42" y="119.7" width="4.7" height="6.7" fill="#ff4040"/>
<rect x="1143.13" y="121.7" width="1.35" height="13.4" fill="#00ffff"/>
<rect x="1141.46" y="124.4" width="4.7" height="10.7" fill="#00ffff"/>
<rect x="1149.16" y="131.0" width="1.35" height="43.1" fill="#00ffff"/>
<rect x="1147.49" y="132.5" width="4.7" height="41.6" fill="#00ffff"/>
<rect x="1155.20" y="151.9" width="1.35" height="22.2" fill="#ff4040"/>
<rect x="1153.52" y="156.6" width="4.7" height="14.1" fill="#ff4040"/>
<rect x="1162.57" y="152.0" width="1.35" height="20.8" fill="#00ffff"/>
<rect x="1160.89" y="154.0" width="4.7" height="18.1" fill="#00ffff"/>
<rect x="1168.60" y="162.7" width="1.35" height="18.8" fill="#00ffff"/>
<rect x="1166.93" y="168.7" width="4.7" height="11.4" fill="#00ffff"/>
<rect x="1174.63" y="174.8" width="1.35" height="14.7" fill="#ff4040"/>
<rect x="1172.96" y="176.0" width="4.7" height="10.0" fill="#ff4040"/>
<rect x="1180.67" y="139.8" width="1.35" height="31.6" fill="#ff4040"/>
<rect x="1178.99" y="139.8" width="4.7" height="28.9" fill="#ff4040"/>
<rect x="1186.70" y="133.8" width="1.35" height="16.8" fill="#00ffff"/>
<rect x="1185.02" y="139.7" width="4.7" height="1.6" fill="#00ffff"/>
<rect x="1194.07" y="121.7" width="1.35" height="15.5" fill="#ff4040"/>
<rect x="1192.40" y="131.0" width="4.7" height="1.6" fill="#ff4040"/>
<rect x="1200.10" y="132.5" width="1.35" height="13.4" fill="#00ffff"/>
<rect x="1198.43" y="132.5" width="4.7" height="12.0" fill="#00ffff"/>
<rect x="1206.14" y="137.2" width="1.35" height="11.4" fill="#00ffff"/>
<rect x="1204.46" y="144.5" width="4.7" height="4.1" fill="#00ffff"/>
<rect x="1212.17" y="143.2" width="1.35" height="8.7" fill="#ff4040"/>
<rect x="1210.49" y="146.2" width="4.7" height="1.6" fill="#ff4040"/>
<rect x="1218.20" y="133.8" width="1.35" height="24.2" fill="#00ffff"/>
<rect x="1216.53" y="144.5" width="4.7" height="10.1" fill="#00ffff"/>
<rect x="1225.57" y="154.0" width="1.35" height="16.1" fill="#00ffff"/>
<rect x="1223.90" y="154.0" width="4.7" height="4.0" fill="#00ffff"/>
<rect x="1231.61" y="139.8" width="1.35" height="16.8" fill="#ff4040"/>
<rect x="1229.93" y="139.8" width="4.7" height="15.5" fill="#ff4040"/>
<rect x="1237.64" y="135.8" width="1.35" height="20.8" fill="#00ffff"/>
<rect x="1235.96" y="138.5" width="4.7" height="17.5" fill="#00ffff"/>
<rect x="1243.67" y="147.2" width="1.35" height="14.1" fill="#ff4040"/>
<rect x="1242.00" y="150.6" width="4.7" height="2.7" fill="#ff4040"/>
<rect x="1249.71" y="133.1" width="1.35" height="22.2" fill="#ff4040"/>
<rect x="1248.03" y="133.1" width="4.7" height="16.1" fill="#ff4040"/>
<rect x="1257.08" y="109.6" width="1.35" height="16.8" fill="#ff4040"/>
<rect x="1255.40" y="109.6" width="4.7" height="14.8" fill="#ff4040"/>
<rect x="1263.11" y="108.3" width="1.35" height="16.8" fill="#00ffff"/>
<rect x="1261.43" y="109.0" width="4.7" height="16.1" fill="#00ffff"/>
<rect x="1269.14" y="121.7" width="1.35" height="15.5" fill="#00ffff"/>
<rect x="1267.47" y="126.6" width="4.7" height="1.6" fill="#00ffff"/>
<rect x="1275.18" y="119.0" width="1.35" height="19.5" fill="#00ffff"/>
<rect x="1273.50" y="123.7" width="4.7" height="14.1" fill="#00ffff"/>
<rect x="1281.21" y="124.4" width="1.35" height="18.8" fill="#ff4040"/>
<rect x="1279.53" y="124.4" width="4.7" height="17.5" fill="#ff4040"/>
<rect x="1288.58" y="108.3" width="1.35" height="15.4" fill="#ff4040"/>
<rect x="1286.91" y="113.7" width="4.7" height="8.7" fill="#ff4040"/>
<rect x="1294.61" y="99.5" width="1.35" height="18.0" fill="#ff4040"/>
<rect x="1292.94" y="104.0" width="4.7" height="8.5" fill="#ff4040"/>
<rect x="1300.65" y="98.2" width="1.35" height="17.5" fill="#00ffff"/>
<rect x="1298.97" y="98.2" width="4.7" height="13.4" fill="#00ffff"/>
<rect x="1306.68" y="94.2" width="1.35" height="23.3" fill="#ff4040"/>
<rect x="1305.00" y="102.2" width="4.7" height="12.8" fill="#ff4040"/>
<rect x="1314.05" y="90.5" width="1.35" height="12.7" fill="#00ffff"/>
<rect x="1312.38" y="96.0" width="4.7" height="7.2" fill="#00ffff"/>
<rect x="1320.08" y="114.7" width="1.35" height="21.3" fill="#00ffff"/>
<rect x="1318.41" y="114.7" width="4.7" height="21.1" fill="#00ffff"/>
<rect x="1326.12" y="132.0" width="1.35" height="18.3" fill="#00ffff"/>
<rect x="1324.44" y="132.2" width="4.7" height="4.0" fill="#00ffff"/>
<rect x="1332.15" y="127.8" width="1.35" height="12.1" fill="#ff4040"/>
<rect x="1330.47" y="127.8" width="4.7" height="10.7" fill="#ff4040"/>
<rect x="1338.18" y="115.7" width="1.35" height="14.1" fill="#ff4040"/>
<rect x="1336.51" y="120.8" width="4.7" height="7.4" fill="#ff4040"/>
<rect x="1345.55" y="118.0" width="1.35" height="15.9" fill="#00ffff"/>
<rect x="1343.88" y="120.4" width="4.7" height="13.5" fill="#00ffff"/>
<rect x="1351.59" y="127.8" width="1.35" height="13.5" fill="#ff4040"/>
<rect x="1349.91" y="127.8" width="4.7" height="10.1" fill="#ff4040"/>
<rect x="1357.62" y="90.9" width="1.35" height="35.6" fill="#ff4040"/>
<rect x="1355.94" y="90.9" width="4.7" height="34.9" fill="#ff4040"/>
<rect x="1363.65" y="78.8" width="1.35" height="22.2" fill="#00ffff"/>
<rect x="1361.98" y="90.2" width="4.7" height="8.8" fill="#00ffff"/>
<rect x="1369.69" y="94.9" width="1.35" height="13.5" fill="#00ffff"/>
<rect x="1368.01" y="104.0" width="4.7" height="1.6" fill="#00ffff"/>
<rect x="1377.06" y="84.2" width="1.35" height="53.0" fill="#00ffff"/>
<rect x="1375.38" y="96.3" width="4.7" height="33.5" fill="#00ffff"/>
<rect x="1383.09" y="127.8" width="1.35" height="24.2" fill="#00ffff"/>
<rect x="1381.42" y="127.8" width="4.7" height="16.2" fill="#00ffff"/>
<rect x="1389.12" y="131.2" width="1.35" height="14.8" fill="#ff4040"/>
<rect x="1387.45" y="131.2" width="4.7" height="9.4" fill="#ff4040"/>
<rect x="1395.16" y="125.1" width="1.35" height="20.9" fill="#ff4040"/>
<rect x="1393.48" y="133.9" width="4.7" height="2.0" fill="#ff4040"/>
<rect x="1401.19" y="127.8" width="1.35" height="12.1" fill="#00ffff"/>
<rect x="1399.51" y="133.9" width="4.7" height="1.6" fill="#00ffff"/>
<rect x="1408.56" y="135.9" width="1.35" height="20.1" fill="#00ffff"/>
<rect x="1406.89" y="136.6" width="4.7" height="4.0" fill="#00ffff"/>
<rect x="1414.59" y="129.8" width="1.35" height="10.8" fill="#00ffff"/>
<rect x="1412.92" y="138.5" width="4.7" height="1.6" fill="#00ffff"/>
<rect x="1420.63" y="133.9" width="1.35" height="20.8" fill="#ff4040"/>
<rect x="1418.95" y="133.9" width="4.7" height="6.7" fill="#ff4040"/>
<rect x="1426.66" y="126.5" width="1.35" height="16.1" fill="#ff4040"/>
<rect x="1424.98" y="135.2" width="4.7" height="4.0" fill="#ff4040"/>
<rect x="1432.69" y="103.0" width="1.35" height="26.8" fill="#ff4040"/>
<rect x="1431.02" y="106.3" width="4.7" height="23.5" fill="#ff4040"/>
<rect x="1440.06" y="94.9" width="1.35" height="13.5" fill="#ff4040"/>
<rect x="1438.39" y="94.9" width="4.7" height="12.8" fill="#ff4040"/>
<rect x="1446.10" y="87.5" width="1.35" height="14.8" fill="#00ffff"/>
<rect x="1444.42" y="87.5" width="4.7" height="10.1" fill="#00ffff"/>
<path d="M34.9 479.1 L42.4 485.4 V488.0 H37.9 V495.7 H31.9 V488.0 H27.4 V485.4 Z" fill="#ff0000"/>
<path d="M153.1 488.5 L160.6 494.8 V497.4 H156.1 V505.1 H150.1 V497.4 H145.6 V494.8 Z" fill="#ff0000"/>
<path d="M374.8 174.5 L382.3 180.8 V183.4 H377.8 V191.1 H371.8 V183.4 H367.3 V180.8 Z" fill="#ff0000"/>
<path d="M538.3 305.0 L545.8 311.3 V313.9 H541.3 V321.6 H535.3 V313.9 H530.8 V311.3 Z" fill="#ff0000"/>
<path d="M607.5 318.4 L615.0 324.7 V327.3 H610.5 V335.0 H604.5 V327.3 H600.0 V324.7 Z" fill="#ff0000"/>
<path d="M650.4 317.0 L657.9 323.3 V325.9 H653.4 V333.6 H647.4 V325.9 H642.9 V323.3 Z" fill="#ff0000"/>
<path d="M670.4 331.9 L677.9 338.2 V340.8 H673.4 V348.5 H667.4 V340.8 H662.9 V338.2 Z" fill="#ff0000"/>
<path d="M934.5 268.0 L942.0 274.3 V276.9 H937.5 V284.6 H931.5 V276.9 H927.0 V274.3 Z" fill="#ff0000"/>
<path d="M1107.0 168.7 L1114.5 175.0 V177.6 H1110.0 V185.3 H1104.0 V177.6 H1099.5 V175.0 Z" fill="#ff0000"/>
<path d="M1180.3 174.0 L1187.8 180.3 V182.9 H1183.3 V190.6 H1177.3 V182.9 H1172.8 V180.3 Z" fill="#ff0000"/>
<path d="M1389.0 149.3 L1396.5 155.6 V158.2 H1392.0 V165.9 H1386.0 V158.2 H1381.5 V155.6 Z" fill="#ff0000"/>
<path d="M101.2 434.7 V442.5 H96.8 V443.7 L103.4 450.1 L110.0 443.7 V442.5 H105.6 V434.7 Z" fill="none" stroke="#00e000" stroke-width="1.6" stroke-linejoin="round"/>
<path d="M276.8 80.7 V88.5 H272.4 V89.7 L279.0 96.1 L285.6 89.7 V88.5 H281.2 V80.7 Z" fill="none" stroke="#00e000" stroke-width="1.6" stroke-linejoin="round"/>
<path d="M296.3 40.6 V48.4 H291.9 V49.6 L298.5 56.0 L305.1 49.6 V48.4 H300.7 V40.6" fill="none" stroke="#00e000" stroke-width="1.6" stroke-linejoin="round"/>
<path d="M731.5 243.9 V251.7 H727.1 V252.9 L733.7 259.3 L740.3 252.9 V251.7 H735.9 V243.9 Z" fill="none" stroke="#00e000" stroke-width="1.6" stroke-linejoin="round"/>
<path d="M750.3 235.1 V242.9 H745.9 V244.1 L752.5 250.5 L759.1 244.1 V242.9 H754.7 V235.1 Z" fill="none" stroke="#00e000" stroke-width="1.6" stroke-linejoin="round"/>
<path d="M768.5 202.3 V210.1 H764.1 V211.3 L770.7 217.7 L777.3 211.3 V210.1 H772.9 V202.3 Z" fill="none" stroke="#00e000" stroke-width="1.6" stroke-linejoin="round"/>
<path d="M900.7 191.7 V199.5 H896.3 V200.7 L902.9 207.1 L909.5 200.7 V199.5 H905.1 V191.7 Z" fill="none" stroke="#00e000" stroke-width="1.6" stroke-linejoin="round"/>
<path d="M1002.8 155.5 V163.3 H998.4 V164.5 L1005.0 170.9 L1011.6 164.5 V163.3 H1007.2 V155.5 Z" fill="none" stroke="#00e000" stroke-width="1.6" stroke-linejoin="round"/>
<path d="M1090.1 83.5 V91.3 H1085.7 V92.5 L1092.3 98.9 L1098.9 92.5 V91.3 H1094.5 V83.5 Z" fill="none" stroke="#00e000" stroke-width="1.6" stroke-linejoin="round"/>
<path d="M1266.8 103.2 V111.0 H1262.4 V112.2 L1269.0 118.6 L1275.6 112.2 V111.0 H1271.2 V103.2 Z" fill="none" stroke="#00e000" stroke-width="1.6" stroke-linejoin="round"/>
<path d="M1317.8 95.7 V103.5 H1313.4 V104.7 L1320.0 111.1 L1326.6 104.7 V103.5 H1322.2 V95.7 Z" fill="none" stroke="#00e000" stroke-width="1.6" stroke-linejoin="round"/>
<path d="M1367.4 74.3 V82.1 H1363.0 V83.3 L1369.6 89.7 L1376.2 83.3 V82.1 H1371.8 V74.3 Z" fill="none" stroke="#00e000" stroke-width="1.6" stroke-linejoin="round"/>
<path d="M1040.9 72.5 H1046.9 V79.9 H1051.4 V82.4 L1043.9 89.1 L1036.4 82.4 V79.9 H1040.9 Z" fill="#00ff00"/>
<line x1="0" y1="94.2" x2="1469" y2="94.2" stroke="#e8e800" stroke-width="1.7"/>
<line x1="0" y1="180.0" x2="1469" y2="180.0" stroke="#e8e800" stroke-width="1.7"/>
<line x1="0" y1="219.0" x2="1469" y2="219.0" stroke="#e8e800" stroke-width="1.7"/>
<line x1="0" y1="393.6" x2="1469" y2="54.4" stroke="#e8e800" stroke-width="1.7"/>
<line x1="0" y1="500.6" x2="1469" y2="161.4" stroke="#e8e800" stroke-width="1.7"/>
<path d="M45 512.8 H28 M32 508.8 L28 512.8 L32 516.8" stroke="#e0e0e0" stroke-width="1.3" fill="none"/>
<text x="47.5" y="519.6" style="font-family:'Liberation Sans',sans-serif;stroke:#000;stroke-width:0.4px;font-size:18.5px" fill="#e8e8e8" textLength="65" lengthAdjust="spacingAndGlyphs">1201.80</text>
<path d="M407.3 45 V40.6 H412 M407.8 42.8 H411.2 M409.5 43.6 L413.5 44.4 L418 46.4 L423.5 47.6" stroke="#e0e0e0" stroke-width="1.2" fill="none"/>
<text x="428" y="55.8" style="font-family:'Liberation Sans',sans-serif;stroke:#000;stroke-width:0.4px;font-size:18.5px" fill="#e8e8e8" textLength="65" lengthAdjust="spacingAndGlyphs">1792.03</text>
<path transform="translate(3.8,15.3)" d="M0.7 5.6 L5.8 0.3 L11.2 5.6 M2.9 7.9 H9.9 V12.9 H5.6 M2.9 7.9 V17.6 H11.2 M13.4 2.4 V12.7 M15.9 0.3 V17.8 H14.6" stroke="#d4d4d4" stroke-width="1.35" fill="none" stroke-linecap="square"/>
<path transform="translate(21,15.3)" d="M7.1 0.2 V16.8 M12.8 0.2 V16.8 M2 6.3 L4.5 11.4 M17.9 5.7 L14.3 11.4 M0.2 17.4 H17.9" stroke="#d4d4d4" stroke-width="1.35" fill="none" stroke-linecap="square"/>
<path transform="translate(40,15.3)" d="M0.5 5 H6.5 M3.5 0.5 V18 M3.5 6 L0.5 13 M3.5 8.5 L6.5 11 M8 2 H16.5 M8.8 2 V11 L7.2 17.5 M8.8 7 H15 L10 17.5 M11 11 L16.5 17.5" stroke="#d4d4d4" stroke-width="1.35" fill="none" stroke-linecap="square"/>
<path transform="translate(58,15.3)" d="M0.5 5 H5.5 M3 0.5 V17.5 L1.5 16.5 M0.5 12 L5.5 9 M8.3 0.5 V6.5 H16.5 M8.3 3.8 L15.5 0.8 M8.8 8.8 H15.8 V17.5 H8.8 Z M8.8 13 H15.8" stroke="#d4d4d4" stroke-width="1.35" fill="none" stroke-linecap="square"/>
<path transform="translate(79.2,15.3)" d="M3.6 0 Q-0.6 9.5 3.6 19" stroke="#d4d4d4" stroke-width="1.35" fill="none" stroke-linecap="square"/>
<path transform="translate(85.8,15.3)" d="M1 1.5 H12 V17.5 H1 Z M1 9.3 H12" stroke="#d4d4d4" stroke-width="1.35" fill="none" stroke-linecap="square"/>
<path transform="translate(101.6,15.3)" d="M4.2 0.5 L1 6 L5 6 L1 12 L6.5 11 M0.5 17.5 L6.5 14.5 M8 5 H16.5 M7.5 10 H17 M11 0.5 L16.8 17.5 M17 11 L9 18 M14 1.2 L16 3" stroke="#d4d4d4" stroke-width="1.35" fill="none" stroke-linecap="square"/>
<path transform="translate(120.5,15.3)" d="M1.2 14.8 h0.6" stroke="#d4d4d4" stroke-width="1.35" fill="none" stroke-linecap="square"/>
<path transform="translate(124.4,15.3)" d="M4.5 0.5 L6 3 M13 0.5 L11.5 3 M0.5 4.2 H17 M2 7 H8 V17.5 H6.5 M2 7 V18 M2 10.5 H8 M2 14 H8 M11.2 7 V14 M15 6 V17.8 H13.5" stroke="#d4d4d4" stroke-width="1.35" fill="none" stroke-linecap="square"/>
<path transform="translate(142.2,15.3)" d="M3.5 0.5 L1 3.8 M3 2.2 H15.5 M4.2 4.5 H14 V10.5 H4.2 Z M4.2 7.5 H14 M5.5 11.5 L3 14 M5 12.5 H14 L4 18 M7.2 14.5 L16.5 18" stroke="#d4d4d4" stroke-width="1.35" fill="none" stroke-linecap="square"/>
<path transform="translate(160.7,15.3)" d="M0.5 5 H6.5 M3.5 0.5 V18 M3.5 6 L0.5 13 M3.5 8.5 L6.5 11 M8 2 H16 L9 17.5 M10 5.5 L17 17.5" stroke="#d4d4d4" stroke-width="1.35" fill="none" stroke-linecap="square"/>
<path transform="translate(178.5,15.3)" d="M0.6 0 Q4.8 9.5 0.6 19" stroke="#d4d4d4" stroke-width="1.35" fill="none" stroke-linecap="square"/>
<path d="M201.3 15.3 L208.8 21.6 V24.2 H204.3 V31.9 H198.3 V24.2 H193.8 V21.6 Z" fill="#ff0000"/>
<circle cx="225.3" cy="25" r="9.2" fill="#7a7a7a"/><path d="M221.10000000000002 23 L225.3 27.5 L229.5 23" stroke="#2a2a2a" stroke-width="1.5" fill="none"/>
<path d="M1427.5 17.5 L1435.5 25.5 L1427.5 33.5 L1419.5 25.5 Z" fill="none" stroke="#6a6a6a" stroke-width="1.3"/>
<rect x="1447.3" y="17.5" width="16.3" height="15.5" rx="2.5" fill="none" stroke="#6a6a6a" stroke-width="1.5"/><rect x="1456.5" y="20.5" width="3.8" height="9.5" fill="#6a6a6a"/>
<path d="M0 451 L13 465.6 V514.8 L0 529.6 Z" fill="#606060" fill-opacity="0.45" stroke="#707070" stroke-width="1"/>
<path d="M1.3 481.6 L9.3 489 L1.3 496.4 Z" fill="#d4900a"/>
<rect x="0" y="537.6" width="1489" height="1.7" fill="#800000"/>
<rect x="0" y="712.9" width="1489" height="1.7" fill="#800000"/>
<rect x="0" y="890.2" width="1489" height="1.8" fill="#800000"/>
<rect x="1468.2" y="10.5" width="1.7" height="885" fill="#800000"/>
<rect x="1469" y="34.8" width="8.6" height="1.6" fill="#800000"/>
<rect x="1469" y="114.4" width="8.6" height="1.6" fill="#800000"/>
<rect x="1469" y="74.6" width="4" height="1.6" fill="#800000"/>
<rect x="1469" y="194.0" width="8.6" height="1.6" fill="#800000"/>
<rect x="1469" y="154.2" width="4" height="1.6" fill="#800000"/>
<rect x="1469" y="273.6" width="8.6" height="1.6" fill="#800000"/>
<rect x="1469" y="233.8" width="4" height="1.6" fill="#800000"/>
<rect x="1469" y="353.3" width="8.6" height="1.6" fill="#800000"/>
<rect x="1469" y="313.5" width="4" height="1.6" fill="#800000"/>
<rect x="1469" y="432.9" width="8.6" height="1.6" fill="#800000"/>
<rect x="1469" y="393.1" width="4" height="1.6" fill="#800000"/>
<rect x="1469" y="512.5" width="8.6" height="1.6" fill="#800000"/>
<rect x="1469" y="472.7" width="4" height="1.6" fill="#800000"/>
<circle cx="12.1" cy="550.8" r="9.2" fill="#7a7a7a"/><path d="M7.8999999999999995 548.8 L12.1 553.3 L16.3 548.8" stroke="#2a2a2a" stroke-width="1.5" fill="none"/>
<text x="27" y="557.3" style="font-family:'Liberation Sans',sans-serif;stroke:#000;stroke-width:0.4px;font-size:19px" fill="#f4f4f4" textLength="191.5" lengthAdjust="spacingAndGlyphs">VOLUME: 70982448.00</text>
<text x="227.7" y="557.3" style="font-family:'Liberation Sans',sans-serif;stroke:#000;stroke-width:0.4px;font-size:19px" fill="#f4f4f4" textLength="151" lengthAdjust="spacingAndGlyphs">MA5: 61666200.00</text>
<text x="386.8" y="557.3" style="font-family:'Liberation Sans',sans-serif;stroke:#000;stroke-width:0.4px;font-size:19px" fill="#ffff00" textLength="163" lengthAdjust="spacingAndGlyphs">MA10: 56624508.00</text>
<line x1="0.5" y1="589.4" x2="1467" y2="589.4" stroke="#6e0000" stroke-width="1.6" stroke-dasharray="1.6 4.4054"/>
<line x1="0.5" y1="630.1" x2="1467" y2="630.1" stroke="#6e0000" stroke-width="1.6" stroke-dasharray="1.6 4.4054"/>
<line x1="0.5" y1="670.5" x2="1467" y2="670.5" stroke="#6e0000" stroke-width="1.6" stroke-dasharray="1.6 4.4054"/>
<rect x="1.30" y="671.7" width="4.7" height="40.5" fill="#00ffff"/>
<rect x="7.34" y="676.9" width="4.7" height="35.3" fill="#ff4040"/>
<rect x="13.37" y="680.3" width="4.7" height="31.9" fill="#00ffff"/>
<rect x="19.40" y="673.4" width="4.7" height="38.8" fill="#00ffff"/>
<rect x="25.44" y="663.9" width="4.7" height="48.3" fill="#ff4040"/>
<rect x="32.81" y="659.6" width="4.7" height="52.6" fill="#ff4040"/>
<rect x="38.84" y="662.1" width="4.7" height="50.1" fill="#ff4040"/>
<rect x="44.87" y="656.1" width="4.7" height="56.1" fill="#00ffff"/>
<rect x="50.91" y="662.1" width="4.7" height="50.1" fill="#00ffff"/>
<rect x="56.94" y="663.9" width="4.7" height="48.3" fill="#ff4040"/>
<rect x="64.31" y="664.7" width="4.7" height="47.5" fill="#00ffff"/>
<rect x="70.34" y="664.7" width="4.7" height="47.5" fill="#ff4040"/>
<rect x="76.38" y="665.6" width="4.7" height="46.6" fill="#ff4040"/>
<rect x="82.41" y="668.2" width="4.7" height="44.0" fill="#00ffff"/>
<rect x="88.44" y="669.9" width="4.7" height="42.3" fill="#ff4040"/>
<rect x="95.81" y="668.2" width="4.7" height="44.0" fill="#ff4040"/>
<rect x="101.85" y="670.8" width="4.7" height="41.4" fill="#00ffff"/>
<rect x="107.88" y="677.7" width="4.7" height="34.5" fill="#ff4040"/>
<rect x="113.91" y="669.1" width="4.7" height="43.1" fill="#ff4040"/>
<rect x="119.95" y="669.1" width="4.7" height="43.1" fill="#00ffff"/>
<rect x="127.32" y="668.2" width="4.7" height="44.0" fill="#00ffff"/>
<rect x="133.35" y="668.2" width="4.7" height="44.0" fill="#00ffff"/>
<rect x="139.38" y="677.7" width="4.7" height="34.5" fill="#00ffff"/>
<rect x="145.42" y="669.1" width="4.7" height="43.1" fill="#00ffff"/>
<rect x="151.45" y="672.5" width="4.7" height="39.7" fill="#ff4040"/>
<rect x="158.82" y="668.2" width="4.7" height="44.0" fill="#ff4040"/>
<rect x="164.85" y="662.1" width="4.7" height="50.1" fill="#ff4040"/>
<rect x="170.89" y="651.8" width="4.7" height="60.4" fill="#ff4040"/>
<rect x="176.92" y="656.1" width="4.7" height="56.1" fill="#ff4040"/>
<rect x="182.95" y="654.9" width="4.7" height="57.3" fill="#00ffff"/>
<rect x="190.32" y="637.0" width="4.7" height="75.2" fill="#ff4040"/>
<rect x="196.36" y="626.7" width="4.7" height="85.5" fill="#00ffff"/>
<rect x="202.39" y="641.4" width="4.7" height="70.8" fill="#ff4040"/>
<rect x="208.42" y="623.2" width="4.7" height="89.0" fill="#ff4040"/>
<rect x="214.46" y="631.0" width="4.7" height="81.2" fill="#ff4040"/>
<rect x="221.83" y="592.0" width="4.7" height="120.2" fill="#ff4040"/>
<rect x="227.86" y="584.2" width="4.7" height="128.0" fill="#00ffff"/>
<rect x="233.89" y="611.1" width="4.7" height="101.1" fill="#00ffff"/>
<rect x="239.93" y="630.1" width="4.7" height="82.1" fill="#ff4040"/>
<rect x="245.96" y="633.6" width="4.7" height="78.6" fill="#ff4040"/>
<rect x="253.33" y="596.4" width="4.7" height="115.8" fill="#ff4040"/>
<rect x="259.36" y="594.6" width="4.7" height="117.6" fill="#ff4040"/>
<rect x="265.40" y="578.2" width="4.7" height="134.0" fill="#ff4040"/>
<rect x="271.43" y="576.4" width="4.7" height="135.8" fill="#00ffff"/>
<rect x="277.46" y="572.1" width="4.7" height="140.1" fill="#ff4040"/>
<rect x="284.83" y="590.3" width="4.7" height="121.9" fill="#ff4040"/>
<rect x="290.87" y="567.8" width="4.7" height="144.4" fill="#ff4040"/>
<rect x="296.90" y="586.0" width="4.7" height="126.2" fill="#00ffff"/>
<rect x="302.93" y="614.5" width="4.7" height="97.7" fill="#00ffff"/>
<rect x="308.97" y="631.0" width="4.7" height="81.2" fill="#00ffff"/>
<rect x="316.34" y="632.7" width="4.7" height="79.5" fill="#ff4040"/>
<rect x="322.37" y="630.1" width="4.7" height="82.1" fill="#ff4040"/>
<rect x="328.40" y="628.4" width="4.7" height="83.8" fill="#00ffff"/>
<rect x="334.44" y="614.5" width="4.7" height="97.7" fill="#ff4040"/>
<rect x="340.47" y="629.3" width="4.7" height="82.9" fill="#00ffff"/>
<rect x="347.84" y="626.7" width="4.7" height="85.5" fill="#ff4040"/>
<rect x="353.87" y="625.8" width="4.7" height="86.4" fill="#00ffff"/>
<rect x="359.91" y="638.8" width="4.7" height="73.4" fill="#00ffff"/>
<rect x="365.94" y="639.6" width="4.7" height="72.6" fill="#00ffff"/>
<rect x="373.31" y="634.4" width="4.7" height="77.8" fill="#ff4040"/>
<rect x="379.34" y="611.1" width="4.7" height="101.1" fill="#ff4040"/>
<rect x="385.38" y="604.1" width="4.7" height="108.1" fill="#00ffff"/>
<rect x="391.41" y="620.6" width="4.7" height="91.6" fill="#ff4040"/>
<rect x="397.44" y="617.1" width="4.7" height="95.1" fill="#00ffff"/>
<rect x="404.81" y="613.7" width="4.7" height="98.5" fill="#00ffff"/>
<rect x="410.85" y="630.1" width="4.7" height="82.1" fill="#ff4040"/>
<rect x="416.88" y="615.4" width="4.7" height="96.8" fill="#00ffff"/>
<rect x="422.91" y="625.8" width="4.7" height="86.4" fill="#00ffff"/>
<rect x="428.95" y="642.2" width="4.7" height="70.0" fill="#ff4040"/>
<rect x="436.32" y="637.9" width="4.7" height="74.3" fill="#00ffff"/>
<rect x="442.35" y="631.0" width="4.7" height="81.2" fill="#ff4040"/>
<rect x="448.38" y="623.2" width="4.7" height="89.0" fill="#ff4040"/>
<rect x="454.42" y="629.3" width="4.7" height="82.9" fill="#00ffff"/>
<rect x="460.45" y="631.0" width="4.7" height="81.2" fill="#ff4040"/>
<rect x="467.82" y="625.8" width="4.7" height="86.4" fill="#00ffff"/>
<rect x="473.85" y="635.3" width="4.7" height="76.9" fill="#00ffff"/>
<rect x="479.89" y="639.6" width="4.7" height="72.6" fill="#ff4040"/>
<rect x="485.92" y="625.8" width="4.7" height="86.4" fill="#00ffff"/>
<rect x="491.95" y="644.0" width="4.7" height="68.2" fill="#00ffff"/>
<rect x="499.32" y="637.0" width="4.7" height="75.2" fill="#00ffff"/>
<rect x="505.36" y="656.1" width="4.7" height="56.1" fill="#ff4040"/>
<rect x="511.39" y="644.0" width="4.7" height="68.2" fill="#00ffff"/>
<rect x="517.42" y="651.8" width="4.7" height="60.4" fill="#00ffff"/>
<rect x="523.46" y="654.4" width="4.7" height="57.8" fill="#ff4040"/>
<rect x="530.83" y="659.5" width="4.7" height="52.7" fill="#00ffff"/>
<rect x="536.86" y="637.9" width="4.7" height="74.3" fill="#ff4040"/>
<rect x="542.89" y="654.4" width="4.7" height="57.8" fill="#00ffff"/>
<rect x="548.93" y="656.1" width="4.7" height="56.1" fill="#ff4040"/>
<rect x="554.96" y="653.5" width="4.7" height="58.7" fill="#ff4040"/>
<rect x="562.33" y="651.8" width="4.7" height="60.4" fill="#ff4040"/>
<rect x="568.36" y="641.0" width="4.7" height="71.2" fill="#00ffff"/>
<rect x="574.40" y="652.6" width="4.7" height="59.6" fill="#00ffff"/>
<rect x="580.43" y="652.6" width="4.7" height="59.6" fill="#ff4040"/>
<rect x="586.46" y="649.2" width="4.7" height="63.0" fill="#00ffff"/>
<rect x="593.83" y="645.7" width="4.7" height="66.5" fill="#00ffff"/>
<rect x="599.87" y="657.8" width="4.7" height="54.4" fill="#00ffff"/>
<rect x="605.90" y="650.0" width="4.7" height="62.2" fill="#ff4040"/>
<rect x="611.93" y="649.2" width="4.7" height="63.0" fill="#ff4040"/>
<rect x="617.97" y="656.1" width="4.7" height="56.1" fill="#ff4040"/>
<rect x="625.34" y="653.5" width="4.7" height="58.7" fill="#00ffff"/>
<rect x="631.37" y="657.8" width="4.7" height="54.4" fill="#00ffff"/>
<rect x="637.40" y="653.5" width="4.7" height="58.7" fill="#00ffff"/>
<rect x="643.44" y="658.7" width="4.7" height="53.5" fill="#00ffff"/>
<rect x="649.47" y="659.5" width="4.7" height="52.7" fill="#00ffff"/>
<rect x="656.84" y="658.7" width="4.7" height="53.5" fill="#00ffff"/>
<rect x="662.87" y="666.5" width="4.7" height="45.7" fill="#ff4040"/>
<rect x="668.91" y="642.8" width="4.7" height="69.4" fill="#ff4040"/>
<rect x="674.94" y="649.2" width="4.7" height="63.0" fill="#00ffff"/>
<rect x="680.97" y="649.2" width="4.7" height="63.0" fill="#ff4040"/>
<rect x="688.34" y="650.0" width="4.7" height="62.2" fill="#00ffff"/>
<rect x="694.38" y="663.9" width="4.7" height="48.3" fill="#00ffff"/>
<rect x="700.41" y="666.5" width="4.7" height="45.7" fill="#ff4040"/>
<rect x="706.44" y="647.4" width="4.7" height="64.8" fill="#00ffff"/>
<rect x="712.48" y="642.8" width="4.7" height="69.4" fill="#ff4040"/>
<rect x="719.85" y="626.3" width="4.7" height="85.9" fill="#00ffff"/>
<rect x="725.88" y="638.4" width="4.7" height="73.8" fill="#00ffff"/>
<rect x="731.91" y="642.8" width="4.7" height="69.4" fill="#00ffff"/>
<rect x="737.95" y="651.8" width="4.7" height="60.4" fill="#ff4040"/>
<rect x="743.98" y="643.1" width="4.7" height="69.1" fill="#ff4040"/>
<rect x="751.35" y="648.3" width="4.7" height="63.9" fill="#00ffff"/>
<rect x="757.38" y="632.4" width="4.7" height="79.8" fill="#ff4040"/>
<rect x="763.42" y="644.0" width="4.7" height="68.2" fill="#ff4040"/>
<rect x="769.45" y="651.8" width="4.7" height="60.4" fill="#00ffff"/>
<rect x="775.48" y="656.1" width="4.7" height="56.1" fill="#00ffff"/>
<rect x="782.85" y="663.9" width="4.7" height="48.3" fill="#ff4040"/>
<rect x="788.89" y="651.8" width="4.7" height="60.4" fill="#00ffff"/>
<rect x="794.92" y="668.2" width="4.7" height="44.0" fill="#ff4040"/>
<rect x="800.95" y="668.2" width="4.7" height="44.0" fill="#00ffff"/>
<rect x="806.99" y="667.0" width="4.7" height="45.2" fill="#00ffff"/>
<rect x="814.36" y="668.2" width="4.7" height="44.0" fill="#ff4040"/>
<rect x="820.39" y="651.8" width="4.7" height="60.4" fill="#ff4040"/>
<rect x="826.42" y="663.9" width="4.7" height="48.3" fill="#00ffff"/>
<rect x="832.46" y="659.5" width="4.7" height="52.7" fill="#ff4040"/>
<rect x="838.49" y="663.0" width="4.7" height="49.2" fill="#00ffff"/>
<rect x="845.86" y="666.5" width="4.7" height="45.7" fill="#ff4040"/>
<rect x="851.89" y="663.9" width="4.7" height="48.3" fill="#00ffff"/>
<rect x="857.93" y="670.8" width="4.7" height="41.4" fill="#ff4040"/>
<rect x="863.96" y="659.5" width="4.7" height="52.7" fill="#ff4040"/>
<rect x="869.99" y="663.9" width="4.7" height="48.3" fill="#ff4040"/>
<rect x="877.36" y="669.1" width="4.7" height="43.1" fill="#00ffff"/>
<rect x="883.40" y="669.1" width="4.7" height="43.1" fill="#ff4040"/>
<rect x="889.43" y="666.5" width="4.7" height="45.7" fill="#ff4040"/>
<rect x="895.46" y="669.1" width="4.7" height="43.1" fill="#00ffff"/>
<rect x="901.50" y="669.1" width="4.7" height="43.1" fill="#ff4040"/>
<rect x="908.87" y="660.4" width="4.7" height="51.8" fill="#ff4040"/>
<rect x="914.90" y="666.5" width="4.7" height="45.7" fill="#00ffff"/>
<rect x="920.93" y="650.0" width="4.7" height="62.2" fill="#ff4040"/>
<rect x="926.97" y="668.2" width="4.7" height="44.0" fill="#00ffff"/>
<rect x="933.00" y="670.8" width="4.7" height="41.4" fill="#ff4040"/>
<rect x="940.37" y="665.6" width="4.7" height="46.6" fill="#00ffff"/>
<rect x="946.40" y="667.3" width="4.7" height="44.9" fill="#ff4040"/>
<rect x="952.44" y="670.8" width="4.7" height="41.4" fill="#00ffff"/>
<rect x="958.47" y="663.9" width="4.7" height="48.3" fill="#00ffff"/>
<rect x="964.50" y="660.4" width="4.7" height="51.8" fill="#ff4040"/>
<rect x="971.87" y="657.8" width="4.7" height="54.4" fill="#ff4040"/>
<rect x="977.91" y="637.9" width="4.7" height="74.3" fill="#ff4040"/>
<rect x="983.94" y="642.8" width="4.7" height="69.4" fill="#00ffff"/>
<rect x="989.97" y="654.9" width="4.7" height="57.3" fill="#00ffff"/>
<rect x="996.00" y="654.9" width="4.7" height="57.3" fill="#00ffff"/>
<rect x="1003.38" y="653.5" width="4.7" height="58.7" fill="#ff4040"/>
<rect x="1009.41" y="656.1" width="4.7" height="56.1" fill="#ff4040"/>
<rect x="1015.44" y="644.3" width="4.7" height="67.9" fill="#ff4040"/>
<rect x="1021.47" y="648.8" width="4.7" height="63.4" fill="#00ffff"/>
<rect x="1027.51" y="647.4" width="4.7" height="64.8" fill="#00ffff"/>
<rect x="1034.88" y="636.7" width="4.7" height="75.5" fill="#00ffff"/>
<rect x="1040.91" y="641.4" width="4.7" height="70.8" fill="#ff4040"/>
<rect x="1046.95" y="638.4" width="4.7" height="73.8" fill="#ff4040"/>
<rect x="1052.98" y="638.8" width="4.7" height="73.4" fill="#ff4040"/>
<rect x="1059.01" y="615.7" width="4.7" height="96.5" fill="#ff4040"/>
<rect x="1066.38" y="634.4" width="4.7" height="77.8" fill="#00ffff"/>
<rect x="1072.42" y="618.9" width="4.7" height="93.3" fill="#ff4040"/>
<rect x="1078.45" y="621.8" width="4.7" height="90.4" fill="#00ffff"/>
<rect x="1084.48" y="633.6" width="4.7" height="78.6" fill="#00ffff"/>
<rect x="1090.51" y="642.8" width="4.7" height="69.4" fill="#00ffff"/>
<rect x="1097.89" y="635.0" width="4.7" height="77.2" fill="#00ffff"/>
<rect x="1103.92" y="633.6" width="4.7" height="78.6" fill="#00ffff"/>
<rect x="1109.95" y="647.1" width="4.7" height="65.1" fill="#00ffff"/>
<rect x="1115.98" y="647.1" width="4.7" height="65.1" fill="#ff4040"/>
<rect x="1122.02" y="644.0" width="4.7" height="68.2" fill="#00ffff"/>
<rect x="1129.39" y="647.1" width="4.7" height="65.1" fill="#00ffff"/>
<rect x="1135.42" y="641.4" width="4.7" height="70.8" fill="#ff4040"/>
<rect x="1141.46" y="642.8" width="4.7" height="69.4" fill="#00ffff"/>
<rect x="1147.49" y="642.8" width="4.7" height="69.4" fill="#00ffff"/>
<rect x="1153.52" y="656.1" width="4.7" height="56.1" fill="#ff4040"/>
<rect x="1160.89" y="663.5" width="4.7" height="48.7" fill="#00ffff"/>
<rect x="1166.93" y="665.3" width="4.7" height="46.9" fill="#00ffff"/>
<rect x="1172.96" y="666.8" width="4.7" height="45.4" fill="#ff4040"/>
<rect x="1178.99" y="657.8" width="4.7" height="54.4" fill="#ff4040"/>
<rect x="1185.02" y="650.4" width="4.7" height="61.8" fill="#00ffff"/>
<rect x="1192.40" y="644.3" width="4.7" height="67.9" fill="#ff4040"/>
<rect x="1198.43" y="641.4" width="4.7" height="70.8" fill="#00ffff"/>
<rect x="1204.46" y="651.8" width="4.7" height="60.4" fill="#00ffff"/>
<rect x="1210.49" y="659.2" width="4.7" height="53.0" fill="#ff4040"/>
<rect x="1216.53" y="653.5" width="4.7" height="58.7" fill="#00ffff"/>
<rect x="1223.90" y="654.9" width="4.7" height="57.3" fill="#00ffff"/>
<rect x="1229.93" y="657.0" width="4.7" height="55.2" fill="#ff4040"/>
<rect x="1235.96" y="657.8" width="4.7" height="54.4" fill="#00ffff"/>
<rect x="1242.00" y="657.8" width="4.7" height="54.4" fill="#ff4040"/>
<rect x="1248.03" y="657.0" width="4.7" height="55.2" fill="#ff4040"/>
<rect x="1255.40" y="635.3" width="4.7" height="76.9" fill="#ff4040"/>
<rect x="1261.43" y="630.6" width="4.7" height="81.6" fill="#00ffff"/>
<rect x="1267.47" y="646.6" width="4.7" height="65.6" fill="#00ffff"/>
<rect x="1273.50" y="654.9" width="4.7" height="57.3" fill="#00ffff"/>
<rect x="1279.53" y="657.8" width="4.7" height="54.4" fill="#ff4040"/>
<rect x="1286.91" y="656.1" width="4.7" height="56.1" fill="#ff4040"/>
<rect x="1292.94" y="657.8" width="4.7" height="54.4" fill="#ff4040"/>
<rect x="1298.97" y="657.0" width="4.7" height="55.2" fill="#00ffff"/>
<rect x="1305.00" y="660.4" width="4.7" height="51.8" fill="#ff4040"/>
<rect x="1312.38" y="656.1" width="4.7" height="56.1" fill="#00ffff"/>
<rect x="1318.41" y="658.7" width="4.7" height="53.5" fill="#00ffff"/>
<rect x="1324.44" y="663.9" width="4.7" height="48.3" fill="#00ffff"/>
<rect x="1330.47" y="668.2" width="4.7" height="44.0" fill="#ff4040"/>
<rect x="1336.51" y="664.7" width="4.7" height="47.5" fill="#ff4040"/>
<rect x="1343.88" y="663.0" width="4.7" height="49.2" fill="#00ffff"/>
<rect x="1349.91" y="668.2" width="4.7" height="44.0" fill="#ff4040"/>
<rect x="1355.94" y="656.1" width="4.7" height="56.1" fill="#ff4040"/>
<rect x="1361.98" y="654.9" width="4.7" height="57.3" fill="#00ffff"/>
<rect x="1368.01" y="664.7" width="4.7" height="47.5" fill="#00ffff"/>
<rect x="1375.38" y="651.8" width="4.7" height="60.4" fill="#00ffff"/>
<rect x="1381.42" y="662.1" width="4.7" height="50.1" fill="#00ffff"/>
<rect x="1387.45" y="664.7" width="4.7" height="47.5" fill="#ff4040"/>
<rect x="1393.48" y="666.8" width="4.7" height="45.4" fill="#ff4040"/>
<rect x="1399.51" y="669.6" width="4.7" height="42.6" fill="#00ffff"/>
<rect x="1406.89" y="669.6" width="4.7" height="42.6" fill="#00ffff"/>
<rect x="1412.92" y="669.6" width="4.7" height="42.6" fill="#00ffff"/>
<rect x="1418.95" y="664.7" width="4.7" height="47.5" fill="#ff4040"/>
<rect x="1424.98" y="669.6" width="4.7" height="42.6" fill="#ff4040"/>
<rect x="1431.02" y="659.2" width="4.7" height="53.0" fill="#ff4040"/>
<rect x="1438.39" y="656.1" width="4.7" height="56.1" fill="#ff4040"/>
<rect x="1444.42" y="653.5" width="4.7" height="58.7" fill="#00ffff"/>
<polyline points="3.7,674.3 9.7,674.7 15.7,675.7 21.8,675.4 27.8,673.2 35.2,670.8 41.2,667.9 47.2,663.0 53.3,660.8 59.3,660.8 66.7,661.8 72.7,662.3 78.7,664.2 84.8,665.4 90.8,666.6 98.2,667.3 104.2,668.5 110.2,671.0 116.3,671.1 122.3,671.0 129.7,671.0 135.7,670.5 141.7,670.5 147.8,670.5 153.8,671.1 161.2,671.1 167.2,669.9 173.2,664.7 179.3,662.1 185.3,658.6 192.7,652.4 198.7,645.3 204.7,643.2 210.8,636.6 216.8,631.9 224.2,622.9 230.2,614.4 236.2,608.3 242.3,609.7 248.3,610.2 255.7,611.1 261.7,613.2 267.7,606.6 273.8,595.8 279.8,583.5 287.2,582.3 293.2,577.0 299.2,578.5 305.3,586.1 311.3,597.9 318.7,606.4 324.7,618.9 330.8,627.3 336.8,627.3 342.8,627.0 350.2,625.8 356.2,624.9 362.3,627.0 368.3,632.0 375.7,633.1 381.7,629.9 387.7,625.6 393.8,622.0 399.8,617.5 407.2,613.3 413.2,617.1 419.2,619.4 425.3,620.4 431.3,625.4 438.7,630.3 444.7,630.5 450.7,632.0 456.8,632.7 462.8,630.5 470.2,628.1 476.2,628.9 482.2,632.2 488.3,631.5 494.3,634.1 501.7,636.3 507.7,640.5 513.7,641.4 519.8,646.6 525.8,648.7 533.2,653.2 539.2,649.5 545.2,651.6 551.3,652.5 557.3,652.3 564.7,650.7 570.7,651.4 576.7,651.0 582.8,650.3 588.8,649.4 596.2,648.2 602.2,651.6 608.2,651.1 614.3,650.4 620.3,651.8 627.7,653.3 633.7,653.3 639.8,654.0 645.8,655.9 651.8,656.6 659.2,657.6 665.2,659.4 671.3,657.2 677.3,655.3 683.3,653.3 690.7,651.5 696.7,651.0 702.8,655.8 708.8,655.4 714.8,654.1 722.2,649.4 728.2,644.3 734.3,639.5 740.3,640.4 746.3,640.5 753.7,644.9 759.7,643.7 765.8,643.9 771.8,643.9 777.8,646.5 785.2,649.6 791.2,653.5 797.3,658.4 803.3,661.6 809.3,663.8 816.7,664.7 822.7,664.7 828.8,663.8 834.8,662.1 840.8,661.3 848.2,660.9 854.2,663.4 860.3,664.7 866.3,664.7 872.3,664.9 879.7,665.4 885.7,666.5 891.8,665.6 897.8,667.5 903.8,668.6 911.2,666.8 917.2,666.3 923.3,663.0 929.3,662.8 935.3,663.2 942.7,664.2 948.8,664.4 954.8,668.5 960.8,667.7 966.9,665.6 974.2,664.0 980.3,658.2 986.3,652.6 992.3,650.8 998.4,649.7 1005.7,648.8 1011.8,652.4 1017.8,652.7 1023.8,651.5 1029.9,650.0 1037.2,646.7 1043.3,643.7 1049.3,642.5 1055.3,640.5 1061.4,634.2 1068.7,633.7 1074.8,629.2 1080.8,625.9 1086.8,624.9 1092.9,630.3 1100.2,630.4 1106.3,633.4 1112.3,638.4 1118.3,641.1 1124.4,641.4 1131.7,643.8 1137.8,645.3 1143.8,644.5 1149.8,643.6 1155.9,646.0 1163.2,649.3 1169.3,654.1 1175.3,658.9 1181.3,661.9 1187.4,660.8 1194.7,656.9 1200.8,652.1 1206.8,649.1 1212.8,649.4 1218.9,650.0 1226.2,652.2 1232.3,655.3 1238.3,656.5 1244.3,656.2 1250.4,656.9 1257.8,653.0 1263.8,647.7 1269.8,645.5 1275.9,644.9 1281.9,645.0 1289.3,649.2 1295.3,654.6 1301.3,656.7 1307.4,657.8 1314.7,657.5 1320.8,658.0 1326.8,659.2 1332.8,661.5 1338.9,662.3 1346.2,663.7 1352.3,665.6 1358.3,664.0 1364.3,661.4 1370.4,661.4 1377.7,659.1 1383.8,657.9 1389.8,659.6 1395.8,662.0 1401.9,663.0 1409.2,666.6 1415.3,668.1 1421.3,668.1 1427.3,668.6 1433.4,666.5 1440.7,663.8 1446.8,660.6" fill="none" stroke="#f0f0f0" stroke-width="1.15" stroke-linejoin="round"/>
<polyline points="3.7,674.6 9.7,674.8 15.7,675.3 21.8,675.2 27.8,674.1 35.2,672.5 41.2,671.3 47.2,669.4 53.3,668.1 59.3,667.0 66.7,666.3 72.7,665.1 78.7,663.6 84.8,663.1 90.8,663.7 98.2,664.6 104.2,665.4 110.2,667.6 116.3,668.3 122.3,668.8 129.7,669.1 135.7,669.5 141.7,670.7 147.8,670.8 153.8,671.1 161.2,671.1 167.2,670.2 173.2,667.6 179.3,666.3 185.3,664.9 192.7,661.8 198.7,657.6 204.7,654.0 210.8,649.4 216.8,645.2 224.2,637.6 230.2,629.8 236.2,625.8 242.3,623.2 248.3,621.0 255.7,617.0 261.7,613.8 267.7,607.4 273.8,602.8 279.8,596.9 287.2,596.7 293.2,595.1 299.2,592.5 305.3,591.0 311.3,590.7 318.7,594.4 324.7,597.9 330.8,602.9 336.8,606.7 342.8,612.5 350.2,616.1 356.2,621.9 362.3,627.2 368.3,629.7 375.7,630.0 381.7,627.9 387.7,625.3 393.8,624.5 399.8,624.8 407.2,623.2 413.2,623.5 419.2,622.5 425.3,621.2 431.3,621.5 438.7,621.8 444.7,623.8 450.7,625.7 456.8,626.6 462.8,628.0 470.2,629.2 476.2,629.7 482.2,632.1 488.3,632.1 494.3,632.3 501.7,632.2 507.7,634.7 513.7,636.8 519.8,639.0 525.8,641.4 533.2,644.8 539.2,645.0 545.2,646.5 551.3,649.5 557.3,650.5 564.7,652.0 570.7,650.4 576.7,651.3 582.8,651.4 588.8,650.9 596.2,649.5 602.2,651.5 608.2,651.0 614.3,650.3 620.3,650.6 627.7,650.8 633.7,652.5 639.8,652.5 645.8,653.1 651.8,654.2 659.2,655.5 665.2,656.4 671.3,655.6 677.3,655.6 683.3,654.9 690.7,654.6 696.7,655.2 702.8,656.5 708.8,655.4 714.8,653.7 722.2,650.5 728.2,647.6 734.3,647.6 740.3,647.9 746.3,647.3 753.7,647.1 759.7,644.0 765.8,641.7 771.8,642.2 777.8,643.5 785.2,647.3 791.2,648.6 797.3,651.1 803.3,652.8 809.3,655.2 816.7,657.2 822.7,659.1 828.8,661.1 834.8,661.9 840.8,662.5 848.2,662.8 854.2,664.0 860.3,664.3 866.3,663.4 872.3,663.1 879.7,663.2 885.7,664.9 891.8,665.2 897.8,666.1 903.8,666.8 911.2,666.1 917.2,666.4 923.3,664.3 929.3,665.2 935.3,665.9 942.7,665.5 948.8,665.4 954.8,665.8 960.8,665.3 966.9,664.4 974.2,664.1 980.3,661.3 986.3,660.5 992.3,659.2 998.4,657.6 1005.7,656.4 1011.8,655.3 1017.8,652.6 1023.8,651.1 1029.9,649.8 1037.2,647.7 1043.3,648.1 1049.3,647.6 1055.3,646.0 1061.4,642.1 1068.7,640.2 1074.8,636.5 1080.8,634.2 1086.8,632.7 1092.9,632.2 1100.2,632.1 1106.3,631.3 1112.3,632.2 1118.3,633.0 1124.4,635.8 1131.7,637.1 1137.8,639.4 1143.8,641.5 1149.8,642.4 1155.9,643.7 1163.2,646.5 1169.3,649.7 1175.3,651.7 1181.3,652.8 1187.4,653.4 1194.7,653.1 1200.8,653.1 1206.8,654.0 1212.8,655.7 1218.9,655.4 1226.2,654.5 1232.3,653.7 1238.3,652.8 1244.3,652.8 1250.4,653.5 1257.8,652.6 1263.8,651.5 1269.8,651.0 1275.9,650.5 1281.9,651.0 1289.3,651.1 1295.3,651.2 1301.3,651.1 1307.4,651.4 1314.7,651.3 1320.8,653.6 1326.8,656.9 1332.8,659.1 1338.9,660.1 1346.2,660.6 1352.3,661.8 1358.3,661.6 1364.3,661.4 1370.4,661.9 1377.7,661.4 1383.8,661.8 1389.8,661.8 1395.8,661.7 1401.9,662.2 1409.2,662.9 1415.3,663.0 1421.3,663.9 1427.3,665.3 1433.4,664.8 1440.7,665.2 1446.8,664.3" fill="none" stroke="#e8e800" stroke-width="1.15" stroke-linejoin="round"/>
<rect x="1469" y="588.6" width="8.6" height="1.6" fill="#800000"/>
<rect x="1469" y="629.3000000000001" width="8.6" height="1.6" fill="#800000"/>
<rect x="1469" y="669.7" width="8.6" height="1.6" fill="#800000"/>
<rect x="1469" y="609.9000000000001" width="4" height="1.6" fill="#800000"/>
<rect x="1469" y="650.2" width="4" height="1.6" fill="#800000"/>
<rect x="1469" y="690.6" width="20" height="1.6" fill="#800000"/>
<text x="1472.3" y="709.2" style="font-family:'Liberation Sans',sans-serif;font-size:19px" fill="#a00000">X1</text>
<rect x="1468" y="714" width="3.8" height="181" fill="#800000"/>
<rect x="1469" y="713.1" width="20" height="3.1" fill="#800000"/>
<path d="M1486.3 587.6 L1489 585 M1486.3 628 L1489 625.4" stroke="#800000" stroke-width="1.3"/>
<circle cx="12.1" cy="727.1" r="9.2" fill="#7a7a7a"/><path d="M7.8999999999999995 725.1 L12.1 729.6 L16.3 725.1" stroke="#2a2a2a" stroke-width="1.5" fill="none"/>
<text x="27.8" y="732.9" style="font-family:'Liberation Sans',sans-serif;stroke:#000;stroke-width:0.4px;font-size:19px" fill="#f4f4f4" textLength="84.6" lengthAdjust="spacingAndGlyphs">KDJ(9,3,3)</text>
<text x="122" y="732.9" style="font-family:'Liberation Sans',sans-serif;stroke:#000;stroke-width:0.4px;font-size:19px" fill="#f4f4f4" textLength="64" lengthAdjust="spacingAndGlyphs">K: 72.61</text>
<text x="197" y="732.9" style="font-family:'Liberation Sans',sans-serif;stroke:#000;stroke-width:0.4px;font-size:19px" fill="#ffff00" textLength="67.7" lengthAdjust="spacingAndGlyphs">D: 54.66</text>
<text x="272" y="732.9" style="font-family:'Liberation Sans',sans-serif;stroke:#000;stroke-width:0.4px;font-size:19px" fill="#ff00ff" textLength="76.2" lengthAdjust="spacingAndGlyphs">J: 108.49</text>
<line x1="0.5" y1="762.2" x2="1467" y2="762.2" stroke="#6e0000" stroke-width="1.6" stroke-dasharray="1.6 4.4054"/>
<line x1="0.5" y1="784.6" x2="1467" y2="784.6" stroke="#6e0000" stroke-width="1.6" stroke-dasharray="1.6 4.4054"/>
<line x1="0.5" y1="819.5" x2="1467" y2="819.5" stroke="#6e0000" stroke-width="1.6" stroke-dasharray="1.6 4.4054"/>
<line x1="0.5" y1="852.2" x2="1467" y2="852.2" stroke="#6e0000" stroke-width="1.6" stroke-dasharray="1.6 4.4054"/>
<line x1="0.5" y1="874.5" x2="1467" y2="874.5" stroke="#6e0000" stroke-width="1.6" stroke-dasharray="1.6 4.4054"/>
<polyline points="3.7,858.6 9.7,854.1 15.7,859.8 21.8,864.7 27.8,849.1 35.2,828.7 41.2,816.3 47.2,809.5 53.3,805.7 59.3,802.3 66.7,807.1 72.7,801.1 78.7,796.3 84.8,812.3 90.8,809.2 98.2,802.5 104.2,815.6 110.2,825.7 116.3,818.6 122.3,815.3 129.7,821.1 135.7,826.2 141.7,841.2 147.8,849.0 153.8,826.4 161.2,805.8 167.2,792.5 173.2,783.4 179.3,778.2 185.3,776.4 192.7,772.0 198.7,773.1 204.7,773.0 210.8,778.1 216.8,772.9 224.2,769.4 230.2,772.8 236.2,779.6 242.3,782.1 248.3,778.5 255.7,777.4 261.7,772.6 267.7,769.6 273.8,771.5 279.8,779.6 287.2,773.9 293.2,772.4 299.2,782.8 305.3,802.8 311.3,816.3 318.7,817.3 324.7,817.5 330.8,822.2 336.8,822.1 342.8,824.1 350.2,830.1 356.2,844.3 362.3,847.9 368.3,854.5 375.7,835.7 381.7,812.6 387.7,800.6 393.8,789.5 399.8,782.0 407.2,786.2 413.2,788.9 419.2,794.7 425.3,806.5 431.3,824.7 438.7,841.3 444.7,837.8 450.7,830.8 456.8,828.9 462.8,819.0 470.2,816.0 476.2,817.6 482.2,804.1 488.3,815.4 494.3,827.4 501.7,841.0 507.7,847.5 513.7,855.0 519.8,857.2 525.8,860.5 533.2,864.7 539.2,857.8 545.2,856.4 551.3,856.7 557.3,848.5 564.7,831.2 570.7,838.0 576.7,841.8 582.8,834.2 588.8,831.3 596.2,845.0 602.2,852.9 608.2,839.9 614.3,826.1 620.3,820.0 627.7,812.7 633.7,807.7 639.8,812.6 645.8,823.2 651.8,833.9 659.2,845.4 665.2,847.2 671.3,826.5 677.3,816.2 683.3,806.5 690.7,811.0 696.7,816.7 702.8,814.5 708.8,811.5 714.8,798.8 722.2,790.6 728.2,789.2 734.3,794.4 740.3,795.4 746.3,787.6 753.7,788.2 759.7,779.6 765.8,775.4 771.8,783.1 777.8,792.6 785.2,792.9 791.2,811.8 797.3,822.6 803.3,833.1 809.3,838.1 816.7,839.8 822.7,824.5 828.8,812.3 834.8,803.6 840.8,811.8 848.2,807.4 854.2,819.3 860.3,816.6 866.3,803.8 872.3,790.4 879.7,786.3 885.7,778.4 891.8,778.9 897.8,783.3 903.8,785.5 911.2,795.8 917.2,822.0 923.3,830.7 929.3,838.4 935.3,836.3 942.7,840.2 948.8,829.5 954.8,827.6 960.8,818.8 966.9,805.1 974.2,796.6 980.3,785.2 986.3,784.1 992.3,782.7 998.4,780.9 1005.7,779.3 1011.8,782.3 1017.8,780.7 1023.8,782.6 1029.9,790.9 1037.2,804.0 1043.3,792.1 1049.3,783.1 1055.3,776.2 1061.4,778.2 1068.7,778.5 1074.8,773.2 1080.8,772.4 1086.8,778.0 1092.9,780.2 1100.2,782.9 1106.3,800.7 1112.3,820.0 1118.3,817.8 1124.4,815.9 1131.7,826.7 1137.8,829.6 1143.8,842.1 1149.8,852.9 1155.9,851.1 1163.2,857.9 1169.3,862.7 1175.3,860.9 1181.3,842.4 1187.4,830.7 1194.7,813.1 1200.8,808.8 1206.8,808.2 1212.8,806.6 1218.9,810.0 1226.2,814.2 1232.3,810.5 1238.3,821.0 1244.3,823.8 1250.4,804.0 1257.8,790.1 1263.8,791.1 1269.8,793.3 1275.9,800.9 1281.9,799.4 1289.3,790.9 1295.3,784.2 1301.3,785.7 1307.4,784.1 1314.7,785.9 1320.8,810.2 1326.8,822.8 1332.8,826.0 1338.9,823.7 1346.2,830.4 1352.3,831.1 1358.3,808.5 1364.3,803.7 1370.4,803.9 1377.7,816.7 1383.8,831.9 1389.8,835.5 1395.8,839.3 1401.9,842.6 1409.2,845.8 1415.3,847.6 1421.3,845.1 1427.3,844.1 1433.4,819.2 1440.7,800.3 1446.8,793.2" fill="none" stroke="#f0f0f0" stroke-width="1.15" stroke-linejoin="round"/>
<polyline points="3.7,855.0 9.7,854.7 15.7,856.4 21.8,859.2 27.8,855.8 35.2,846.8 41.2,836.6 47.2,827.6 53.3,820.3 59.3,814.3 66.7,811.9 72.7,808.3 78.7,804.3 84.8,807.0 90.8,807.7 98.2,806.0 104.2,809.2 110.2,814.7 116.3,816.0 122.3,815.8 129.7,817.5 135.7,820.4 141.7,827.3 147.8,834.6 153.8,831.9 161.2,823.2 167.2,813.0 173.2,803.1 179.3,794.8 185.3,788.7 192.7,783.1 198.7,779.8 204.7,777.5 210.8,777.7 216.8,776.1 224.2,773.9 230.2,773.5 236.2,775.5 242.3,777.7 248.3,778.0 255.7,777.8 261.7,776.0 267.7,773.9 273.8,773.1 279.8,775.3 287.2,774.8 293.2,774.0 299.2,776.9 305.3,785.5 311.3,795.8 318.7,803.0 324.7,807.8 330.8,812.6 336.8,815.8 342.8,818.6 350.2,822.4 356.2,829.7 362.3,835.7 368.3,842.0 375.7,839.9 381.7,830.8 387.7,820.7 393.8,810.3 399.8,800.9 407.2,796.0 413.2,793.6 419.2,794.0 425.3,798.2 431.3,807.0 438.7,818.4 444.7,824.9 450.7,826.9 456.8,827.5 462.8,824.7 470.2,821.8 476.2,820.4 482.2,815.0 488.3,815.1 494.3,819.2 501.7,826.5 507.7,833.5 513.7,840.7 519.8,846.2 525.8,851.0 533.2,855.5 539.2,856.3 545.2,856.3 551.3,856.5 557.3,853.8 564.7,846.3 570.7,843.5 576.7,842.9 582.8,840.0 588.8,837.1 596.2,839.7 602.2,844.1 608.2,842.7 614.3,837.2 620.3,831.5 627.7,825.2 633.7,819.4 639.8,817.1 645.8,819.2 651.8,824.1 659.2,831.2 665.2,836.5 671.3,833.2 677.3,827.5 683.3,820.5 690.7,817.3 696.7,817.1 702.8,816.3 708.8,814.7 714.8,809.4 722.2,803.1 728.2,798.5 734.3,797.1 740.3,796.5 746.3,793.6 753.7,791.8 759.7,787.7 765.8,783.6 771.8,783.4 777.8,786.5 785.2,788.6 791.2,796.3 797.3,805.1 803.3,814.4 809.3,822.3 816.7,828.1 822.7,826.9 828.8,822.0 834.8,815.9 840.8,814.5 848.2,812.2 854.2,814.5 860.3,815.2 866.3,811.4 872.3,804.4 879.7,798.4 885.7,791.7 891.8,787.4 897.8,786.1 903.8,785.9 911.2,789.2 917.2,800.1 923.3,810.3 929.3,819.7 935.3,825.2 942.7,830.2 948.8,830.0 954.8,829.2 960.8,825.7 966.9,818.8 974.2,811.4 980.3,802.7 986.3,796.5 992.3,791.9 998.4,788.2 1005.7,785.3 1011.8,784.3 1017.8,783.1 1023.8,782.9 1029.9,785.6 1037.2,791.7 1043.3,791.9 1049.3,788.9 1055.3,784.7 1061.4,782.5 1068.7,781.2 1074.8,778.5 1080.8,776.5 1086.8,777.0 1092.9,778.1 1100.2,779.7 1106.3,786.7 1112.3,797.8 1118.3,804.5 1124.4,808.3 1131.7,814.4 1137.8,819.5 1143.8,827.0 1149.8,835.6 1155.9,840.8 1163.2,846.5 1169.3,851.9 1175.3,854.9 1181.3,850.7 1187.4,844.1 1194.7,833.8 1200.8,825.4 1206.8,819.7 1212.8,815.3 1218.9,813.6 1226.2,813.8 1232.3,812.7 1238.3,815.5 1244.3,818.2 1250.4,813.5 1257.8,805.7 1263.8,800.8 1269.8,798.3 1275.9,799.2 1281.9,799.3 1289.3,796.5 1295.3,792.4 1301.3,790.1 1307.4,788.1 1314.7,787.4 1320.8,795.0 1326.8,804.3 1332.8,811.5 1338.9,815.6 1346.2,820.5 1352.3,824.0 1358.3,818.9 1364.3,813.8 1370.4,810.5 1377.7,812.6 1383.8,819.0 1389.8,824.5 1395.8,829.4 1401.9,833.8 1409.2,837.8 1415.3,841.1 1421.3,842.4 1427.3,843.0 1433.4,835.0 1440.7,823.5 1446.8,813.4" fill="none" stroke="#e8e800" stroke-width="1.15" stroke-linejoin="round"/>
<polyline points="3.7,865.9 9.7,852.8 15.7,866.7 21.8,875.8 27.8,835.6 35.2,792.5 41.2,775.5 47.2,773.4 53.3,776.6 59.3,778.4 66.7,797.6 72.7,786.8 78.7,780.3 84.8,822.9 90.8,812.3 98.2,795.4 104.2,828.3 110.2,847.8 116.3,823.9 122.3,814.4 129.7,828.2 135.7,837.8 141.7,868.8 147.8,878.0 153.8,815.5 161.2,771.1 167.2,751.6 173.2,744.0 179.3,744.9 185.3,751.8 192.7,749.8 198.7,759.7 204.7,764.0 210.8,778.8 216.8,766.5 224.2,760.5 230.2,771.4 236.2,787.7 242.3,790.8 248.3,779.6 255.7,776.6 261.7,765.6 267.7,761.1 273.8,768.3 279.8,788.3 287.2,772.1 293.2,769.1 299.2,794.5 305.3,837.2 311.3,857.2 318.7,846.1 324.7,836.8 330.8,841.5 336.8,834.7 342.8,835.3 350.2,845.4 356.2,873.4 362.3,872.1 368.3,879.5 375.7,827.4 381.7,776.2 387.7,760.3 393.8,747.9 399.8,744.3 407.2,766.7 413.2,779.4 419.2,796.2 425.3,823.2 431.3,860.1 438.7,887.0 444.7,863.6 450.7,838.7 456.8,831.5 462.8,807.7 470.2,804.4 476.2,812.1 482.2,782.5 488.3,815.9 494.3,843.8 501.7,870.1 507.7,875.6 513.7,883.8 519.8,879.2 525.8,879.7 533.2,883.0 539.2,860.8 545.2,856.6 551.3,857.2 557.3,838.0 564.7,801.0 570.7,826.9 576.7,839.5 582.8,822.5 588.8,819.7 596.2,855.5 602.2,870.4 608.2,834.2 614.3,803.9 620.3,797.2 627.7,787.6 633.7,784.4 639.8,803.7 645.8,831.4 651.8,853.5 659.2,873.9 665.2,868.6 671.3,813.1 677.3,793.5 683.3,778.4 690.7,798.4 696.7,815.8 702.8,811.1 708.8,805.2 714.8,777.7 722.2,765.5 728.2,770.7 734.3,789.0 740.3,793.0 746.3,775.7 753.7,781.1 759.7,763.5 765.8,758.9 771.8,782.4 777.8,804.7 785.2,801.4 791.2,842.7 797.3,857.7 803.3,870.5 809.3,869.6 816.7,863.0 822.7,819.7 828.8,792.8 834.8,779.1 840.8,806.4 848.2,797.8 854.2,828.7 860.3,819.4 866.3,788.5 872.3,762.5 879.7,762.1 885.7,751.8 891.8,761.7 897.8,777.9 903.8,784.9 911.2,808.9 917.2,865.8 923.3,871.4 929.3,875.8 935.3,858.5 942.7,860.1 948.8,828.6 954.8,824.4 960.8,805.0 966.9,777.5 974.2,767.0 980.3,750.3 986.3,759.2 992.3,764.4 998.4,766.3 1005.7,767.4 1011.8,778.5 1017.8,775.9 1023.8,782.0 1029.9,801.6 1037.2,828.6 1043.3,792.5 1049.3,771.4 1055.3,759.3 1061.4,769.5 1068.7,773.1 1074.8,762.5 1080.8,764.3 1086.8,780.0 1092.9,784.6 1100.2,789.4 1106.3,828.8 1112.3,864.3 1118.3,844.4 1124.4,831.1 1131.7,851.3 1137.8,849.8 1143.8,872.2 1149.8,887.4 1155.9,871.7 1163.2,880.6 1169.3,884.5 1175.3,873.0 1181.3,825.7 1187.4,804.0 1194.7,771.9 1200.8,775.6 1206.8,785.2 1212.8,789.2 1218.9,803.0 1226.2,815.0 1232.3,806.2 1238.3,832.0 1244.3,834.9 1250.4,784.9 1257.8,759.0 1263.8,771.6 1269.8,783.3 1275.9,804.3 1281.9,799.8 1289.3,779.8 1295.3,767.7 1301.3,776.8 1307.4,776.0 1314.7,782.9 1320.8,840.6 1326.8,859.9 1332.8,855.0 1338.9,840.1 1346.2,850.2 1352.3,845.1 1358.3,787.7 1364.3,783.5 1370.4,790.7 1377.7,825.0 1383.8,857.7 1389.8,857.5 1395.8,858.9 1401.9,860.1 1409.2,861.7 1415.3,860.7 1421.3,850.4 1427.3,846.3 1433.4,787.5 1440.7,754.0 1446.8,752.9" fill="none" stroke="#ff00ff" stroke-width="1.15" stroke-linejoin="round"/>
<text x="1480.6" y="768.6" style="font-family:'Liberation Sans',sans-serif;stroke:#000;stroke-width:0.4px;font-size:18.5px" fill="#800000">1</text>
<rect x="1469" y="888" width="20" height="1.7" fill="#800000"/>
<rect x="151.7" y="891" width="1.4" height="4" fill="#800000"/>
<rect x="175.7" y="891" width="1.4" height="4" fill="#800000"/>
<rect x="199.6" y="891" width="1.4" height="4" fill="#800000"/>
<rect x="221.6" y="891" width="1.4" height="4" fill="#800000"/>
<rect x="245.9" y="891" width="1.4" height="4" fill="#800000"/>
<rect x="279.1" y="891" width="1.4" height="4" fill="#800000"/>
<rect x="313.6" y="891" width="1.4" height="4" fill="#800000"/>
<rect x="346.5" y="891" width="1.4" height="4" fill="#800000"/>
<rect x="379.3" y="891" width="1.4" height="4" fill="#800000"/>
<rect x="412.5" y="891" width="1.4" height="4" fill="#800000"/>
<rect x="445.5" y="891" width="1.4" height="4" fill="#800000"/>
<rect x="478.7" y="891" width="1.4" height="4" fill="#800000"/>
<rect x="511.7" y="891" width="1.4" height="4" fill="#800000"/>
<rect x="543.2" y="891" width="1.4" height="4" fill="#800000"/>
<rect x="574.9" y="891" width="1.4" height="4" fill="#800000"/>
<rect x="606.1" y="891" width="1.4" height="4" fill="#800000"/>
<rect x="637.8" y="891" width="1.4" height="4" fill="#800000"/>
<rect x="668.1" y="891" width="1.4" height="4" fill="#800000"/>
<rect x="697.8" y="891" width="1.4" height="4" fill="#800000"/>
<rect x="727.3" y="891" width="1.4" height="4" fill="#800000"/>
<rect x="757.5" y="891" width="1.4" height="4" fill="#800000"/>
<rect x="793.3" y="891" width="1.4" height="4" fill="#800000"/>
<rect x="829.5" y="891" width="1.4" height="4" fill="#800000"/>
<rect x="865.2" y="891" width="1.4" height="4" fill="#800000"/>
<rect x="901.4" y="891" width="1.4" height="4" fill="#800000"/>
<rect x="936.4" y="891" width="1.4" height="4" fill="#800000"/>
<rect x="971.9" y="891" width="1.4" height="4" fill="#800000"/>
<rect x="1006.8" y="891" width="1.4" height="4" fill="#800000"/>
<rect x="1041.1" y="891" width="1.4" height="4" fill="#800000"/>
<rect x="1072.6" y="891" width="1.4" height="4" fill="#800000"/>
<rect x="1103.8" y="891" width="1.4" height="4" fill="#800000"/>
<rect x="1135.3" y="891" width="1.4" height="4" fill="#800000"/>
<rect x="1167.0" y="891" width="1.4" height="4" fill="#800000"/>
<rect x="1195.2" y="891" width="1.4" height="4" fill="#800000"/>
<rect x="1224.0" y="891" width="1.4" height="4" fill="#800000"/>
<rect x="1252.2" y="891" width="1.4" height="4" fill="#800000"/>
<rect x="1280.7" y="891" width="1.4" height="4" fill="#800000"/>
<rect x="1313.4" y="891" width="1.4" height="4" fill="#800000"/>
<rect x="1346.4" y="891" width="1.4" height="4" fill="#800000"/>
<rect x="1379.3" y="891" width="1.4" height="4" fill="#800000"/>
<rect x="1412.6" y="891" width="1.4" height="4" fill="#800000"/>
</svg></body></html>
